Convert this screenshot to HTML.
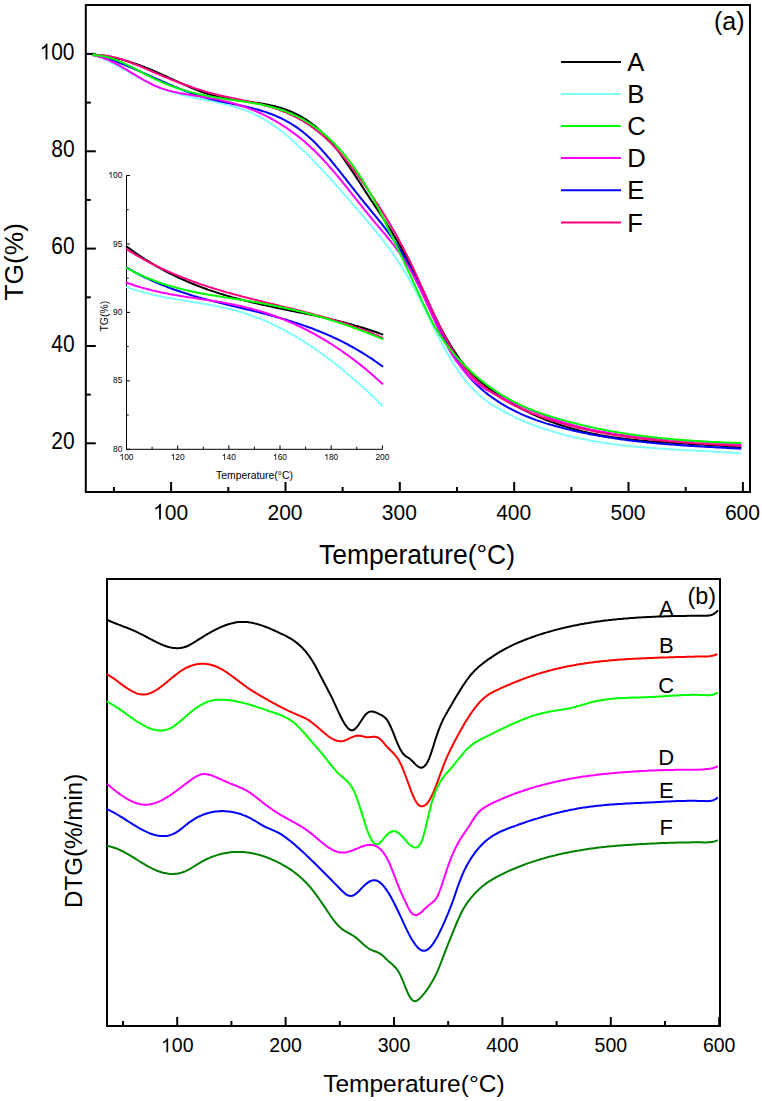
<!DOCTYPE html>
<html><head><meta charset="utf-8"><title>TG DTG</title>
<style>html,body{margin:0;padding:0;background:#fff;overflow:hidden;}svg{display:block;}svg text{font-family:"Liberation Sans",sans-serif;}</style>
</head><body>
<svg width="762" height="1101" viewBox="0 0 762 1101">
<rect width="762" height="1101" fill="#fff"/>
<g fill="none" stroke="#000" stroke-width="2">
<rect x="85.8" y="5" width="664.2" height="487"/>
<line x1="113.9" y1="492" x2="113.9" y2="487"/>
<line x1="171.1" y1="492" x2="171.1" y2="482"/>
<line x1="228.3" y1="492" x2="228.3" y2="487"/>
<line x1="285.5" y1="492" x2="285.5" y2="482"/>
<line x1="342.6" y1="492" x2="342.6" y2="487"/>
<line x1="399.8" y1="492" x2="399.8" y2="482"/>
<line x1="457" y1="492" x2="457" y2="487"/>
<line x1="514.2" y1="492" x2="514.2" y2="482"/>
<line x1="571.4" y1="492" x2="571.4" y2="487"/>
<line x1="628.5" y1="492" x2="628.5" y2="482"/>
<line x1="685.7" y1="492" x2="685.7" y2="487"/>
<line x1="742.9" y1="492" x2="742.9" y2="482"/>
<line x1="85.8" y1="443.3" x2="95.8" y2="443.3"/>
<line x1="85.8" y1="394.6" x2="90.8" y2="394.6"/>
<line x1="85.8" y1="346" x2="95.8" y2="346"/>
<line x1="85.8" y1="297.3" x2="90.8" y2="297.3"/>
<line x1="85.8" y1="248.6" x2="95.8" y2="248.6"/>
<line x1="85.8" y1="199.9" x2="90.8" y2="199.9"/>
<line x1="85.8" y1="151.3" x2="95.8" y2="151.3"/>
<line x1="85.8" y1="102.6" x2="90.8" y2="102.6"/>
<line x1="85.8" y1="53.9" x2="95.8" y2="53.9"/>
</g>
<g font-family="Liberation Sans, sans-serif" fill="#000">
<path transform="translate(153.1,519.6) scale(0.01025,-0.0107)" d="M763,0H583V1147Q518,1085 412,1023T223,930V1104Q374,1175 487,1276T647,1472H763Z"/>
<text transform="translate(164.8,519.6) scale(1,1.09)" font-size="21">00</text>
<text transform="translate(285,519.6) scale(1,1.09)" font-size="21" text-anchor="middle">200</text>
<text transform="translate(399.3,519.6) scale(1,1.09)" font-size="21" text-anchor="middle">300</text>
<text transform="translate(513.7,519.6) scale(1,1.09)" font-size="21" text-anchor="middle">400</text>
<text transform="translate(628,519.6) scale(1,1.09)" font-size="21" text-anchor="middle">500</text>
<text transform="translate(742.4,519.6) scale(1,1.09)" font-size="21" text-anchor="middle">600</text>
<text transform="translate(74.6,449) scale(1,1.11)" font-size="21" text-anchor="end">20</text>
<text transform="translate(74.6,351.7) scale(1,1.11)" font-size="21" text-anchor="end">40</text>
<text transform="translate(74.6,254.3) scale(1,1.11)" font-size="21" text-anchor="end">60</text>
<text transform="translate(74.6,157) scale(1,1.11)" font-size="21" text-anchor="end">80</text>
<path transform="translate(39.6,59.6) scale(0.01025,-0.01089)" d="M763,0H583V1147Q518,1085 412,1023T223,930V1104Q374,1175 487,1276T647,1472H763Z"/>
<text transform="translate(51.2,59.6) scale(1,1.11)" font-size="21">00</text>
<text transform="translate(319,564.2) scale(1,1.03)" font-size="26.5">Temperature(°C)</text>
<text transform="translate(23.3,300.5) rotate(-90)" font-size="26.3">TG(%)</text>
<text transform="translate(714,29.5)" font-size="25">(a)</text>
<line x1="561" y1="62" x2="621" y2="62" stroke="#000000" stroke-width="2"/>
<text transform="translate(627.3,71)" font-size="25.6">A</text>
<line x1="561" y1="94" x2="621" y2="94" stroke="#80ffff" stroke-width="2"/>
<text transform="translate(627.3,103)" font-size="25.6">B</text>
<line x1="561" y1="126" x2="621" y2="126" stroke="#00ff00" stroke-width="2"/>
<text transform="translate(627.3,135)" font-size="25.6">C</text>
<line x1="561" y1="158" x2="621" y2="158" stroke="#ff00ff" stroke-width="2"/>
<text transform="translate(627.3,167)" font-size="25.6">D</text>
<line x1="561" y1="190.3" x2="621" y2="190.3" stroke="#0000ff" stroke-width="2"/>
<text transform="translate(627.3,199.3)" font-size="25.6">E</text>
<line x1="561" y1="222.5" x2="621" y2="222.5" stroke="#ff0080" stroke-width="2"/>
<text transform="translate(627.3,231.5)" font-size="25.6">F</text>
</g>
<g fill="none" stroke="#000" stroke-width="1">
<polyline points="126.5,175.5 126.5,449.3 382.4,449.3"/>
<line x1="126.5" y1="449.3" x2="126.5" y2="445.3"/>
<line x1="152.1" y1="449.3" x2="152.1" y2="446.8"/>
<line x1="177.7" y1="449.3" x2="177.7" y2="445.3"/>
<line x1="203.3" y1="449.3" x2="203.3" y2="446.8"/>
<line x1="228.9" y1="449.3" x2="228.9" y2="445.3"/>
<line x1="254.4" y1="449.3" x2="254.4" y2="446.8"/>
<line x1="280" y1="449.3" x2="280" y2="445.3"/>
<line x1="305.6" y1="449.3" x2="305.6" y2="446.8"/>
<line x1="331.2" y1="449.3" x2="331.2" y2="445.3"/>
<line x1="356.8" y1="449.3" x2="356.8" y2="446.8"/>
<line x1="382.4" y1="449.3" x2="382.4" y2="445.3"/>
<line x1="126.5" y1="449.3" x2="130" y2="449.3"/>
<line x1="126.5" y1="415.1" x2="128.7" y2="415.1"/>
<line x1="126.5" y1="380.9" x2="130" y2="380.9"/>
<line x1="126.5" y1="346.6" x2="128.7" y2="346.6"/>
<line x1="126.5" y1="312.4" x2="130" y2="312.4"/>
<line x1="126.5" y1="278.2" x2="128.7" y2="278.2"/>
<line x1="126.5" y1="244" x2="130" y2="244"/>
<line x1="126.5" y1="209.7" x2="128.7" y2="209.7"/>
<line x1="126.5" y1="175.5" x2="130" y2="175.5"/>
</g>
<g font-family="Liberation Sans, sans-serif" fill="#000" font-size="9">
<path transform="translate(119.5,460) scale(0.0041,-0.00424)" d="M763,0H583V1147Q518,1085 412,1023T223,930V1104Q374,1175 487,1276T647,1472H763Z"/>
<text transform="translate(124.2,460) scale(1,1.08)" font-size="8.4">00</text>
<path transform="translate(170.7,460) scale(0.0041,-0.00424)" d="M763,0H583V1147Q518,1085 412,1023T223,930V1104Q374,1175 487,1276T647,1472H763Z"/>
<text transform="translate(175.3,460) scale(1,1.08)" font-size="8.4">20</text>
<path transform="translate(221.9,460) scale(0.0041,-0.00424)" d="M763,0H583V1147Q518,1085 412,1023T223,930V1104Q374,1175 487,1276T647,1472H763Z"/>
<text transform="translate(226.5,460) scale(1,1.08)" font-size="8.4">40</text>
<path transform="translate(273,460) scale(0.0041,-0.00424)" d="M763,0H583V1147Q518,1085 412,1023T223,930V1104Q374,1175 487,1276T647,1472H763Z"/>
<text transform="translate(277.7,460) scale(1,1.08)" font-size="8.4">60</text>
<path transform="translate(324.2,460) scale(0.0041,-0.00424)" d="M763,0H583V1147Q518,1085 412,1023T223,930V1104Q374,1175 487,1276T647,1472H763Z"/>
<text transform="translate(328.9,460) scale(1,1.08)" font-size="8.4">80</text>
<text transform="translate(375.4,460) scale(1,1.08)" font-size="8.4">200</text>
<text transform="translate(113,451.8) scale(1,1.08)" font-size="8.4">80</text>
<text transform="translate(113,383.4) scale(1,1.08)" font-size="8.4">85</text>
<text transform="translate(113,314.9) scale(1,1.08)" font-size="8.4">90</text>
<text transform="translate(113,246.5) scale(1,1.08)" font-size="8.4">95</text>
<path transform="translate(108.3,178) scale(0.0041,-0.00424)" d="M763,0H583V1147Q518,1085 412,1023T223,930V1104Q374,1175 487,1276T647,1472H763Z"/>
<text transform="translate(113,178) scale(1,1.08)" font-size="8.4">00</text>
<text transform="translate(216,478.5)" font-size="10.4">Temperature(°C)</text>
<text transform="translate(108.2,331.5) rotate(-90)" font-size="10.4">TG(%)</text>
</g>
<g fill="none" stroke-width="2" stroke-linejoin="round" stroke-linecap="round">
<path d="M93.2,54.6 L94.7,54.7 L96.2,54.8 L97.7,55 L99.2,55.1 L100.7,55.3 L102.2,55.5 L103.7,55.7 L105.2,56 L106.7,56.2 L108.2,56.5 L109.7,56.7 L111.2,57 L112.7,57.4 L114.2,57.7 L115.7,58 L117.2,58.4 L118.7,58.7 L120.2,59.1 L121.7,59.5 L123.2,59.9 L124.7,60.4 L126.2,60.8 L127.7,61.3 L129.2,61.7 L130.7,62.2 L132.2,62.7 L133.8,63.2 L135.3,63.7 L136.8,64.2 L138.3,64.8 L139.8,65.3 L141.3,65.9 L142.8,66.4 L144.3,67 L145.8,67.6 L147.3,68.2 L148.8,68.8 L150.3,69.4 L151.8,70 L153.3,70.7 L154.8,71.3 L156.3,72 L157.8,72.6 L159.3,73.3 L160.8,74 L162.3,74.6 L163.8,75.3 L165.3,76 L166.8,76.7 L168.3,77.4 L169.8,78.1 L171.3,78.7 L172.8,79.4 L174.3,80.1 L175.8,80.8 L177.3,81.5 L178.8,82.2 L180.3,82.9 L181.8,83.5 L183.3,84.2 L184.8,84.9 L186.3,85.5 L187.8,86.2 L189.3,86.8 L190.8,87.5 L192.3,88.1 L193.8,88.7 L195.3,89.3 L196.8,89.9 L198.3,90.5 L199.8,91.1 L201.3,91.7 L202.8,92.2 L204.3,92.8 L205.8,93.3 L207.3,93.8 L208.8,94.3 L210.3,94.7 L211.8,95.2 L213.3,95.6 L214.9,96 L216.4,96.4 L217.9,96.8 L219.4,97.1 L220.9,97.5 L222.4,97.8 L223.9,98.1 L225.4,98.4 L226.9,98.7 L228.4,98.9 L229.9,99.2 L231.4,99.4 L232.9,99.7 L234.4,99.9 L235.9,100.1 L237.4,100.3 L238.9,100.5 L240.4,100.7 L241.9,100.9 L243.4,101.1 L244.9,101.3 L246.4,101.5 L247.9,101.7 L249.4,101.9 L250.9,102.1 L252.4,102.3 L253.9,102.5 L255.4,102.7 L256.9,102.9 L258.4,103.1 L259.9,103.3 L261.4,103.6 L262.9,103.8 L264.4,104.1 L265.9,104.4 L267.4,104.6 L268.9,104.9 L270.4,105.3 L271.9,105.6 L273.4,105.9 L274.9,106.3 L276.4,106.7 L277.9,107.1 L279.4,107.5 L280.9,108 L282.4,108.4 L283.9,108.9 L285.4,109.5 L286.9,110 L288.4,110.6 L289.9,111.2 L291.4,111.8 L292.9,112.5 L294.4,113.2 L296,113.9 L297.5,114.6 L299,115.4 L300.5,116.3 L302,117.1 L303.5,118 L305,118.9 L306.5,119.9 L308,120.9 L309.5,122 L311,123.1 L312.5,124.2 L314,125.4 L315.5,126.6 L317,127.9 L318.5,129.2 L320,130.6 L321.5,132 L323,133.5 L324.5,135 L326,136.6 L327.5,138.2 L329,139.9 L330.5,141.6 L332,143.4 L333.5,145.2 L335,147.1 L336.5,149 L338,151 L339.5,153 L341,155 L342.5,157.1 L344,159.2 L345.5,161.3 L347,163.5 L348.5,165.7 L350,167.9 L351.5,170.1 L353,172.4 L354.5,174.6 L356,176.9 L357.5,179.2 L359,181.5 L360.5,183.8 L362,186.1 L363.5,188.5 L365,190.8 L366.5,193.1 L368,195.4 L369.5,197.7 L371,200 L372.5,202.3 L374,204.6 L375.5,206.9 L377.1,209.1 L378.6,211.4 L380.1,213.7 L381.6,216 L383.1,218.3 L384.6,220.6 L386.1,222.9 L387.6,225.3 L389.1,227.6 L390.6,230 L392.1,232.4 L393.6,234.9 L395.1,237.4 L396.6,239.9 L398.1,242.4 L399.6,245 L401.1,247.7 L402.6,250.4 L404.1,253.1 L405.6,255.9 L407.1,258.7 L408.6,261.6 L410.1,264.5 L411.6,267.5 L413.1,270.6 L414.6,273.7 L416.1,276.8 L417.6,279.9 L419.1,283.1 L420.6,286.3 L422.1,289.5 L423.6,292.7 L425.1,295.9 L426.6,299.1 L428.1,302.3 L429.6,305.4 L431.1,308.6 L432.6,311.7 L434.1,314.8 L435.6,317.8 L437.1,320.8 L438.6,323.7 L440.1,326.6 L441.6,329.5 L443.1,332.3 L444.6,335 L446.1,337.7 L447.6,340.3 L449.1,342.8 L450.6,345.3 L452.1,347.8 L453.6,350.1 L455.1,352.4 L456.6,354.7 L458.2,356.9 L459.7,359 L461.2,361 L462.7,362.9 L464.2,364.8 L465.7,366.7 L467.2,368.4 L468.7,370.1 L470.2,371.7 L471.7,373.3 L473.2,374.8 L474.7,376.3 L476.2,377.7 L477.7,379.1 L479.2,380.4 L480.7,381.7 L482.2,383 L483.7,384.2 L485.2,385.4 L486.7,386.6 L488.2,387.7 L489.7,388.8 L491.2,389.9 L492.7,391 L494.2,392.1 L495.7,393.1 L497.2,394.1 L498.7,395.2 L500.2,396.2 L501.7,397.1 L503.2,398.1 L504.7,399.1 L506.2,400 L507.7,400.9 L509.2,401.8 L510.7,402.7 L512.2,403.6 L513.7,404.5 L515.2,405.3 L516.7,406.1 L518.2,407 L519.7,407.8 L521.2,408.6 L522.7,409.4 L524.2,410.1 L525.7,410.9 L527.2,411.6 L528.7,412.3 L530.2,413.1 L531.7,413.8 L533.2,414.5 L534.7,415.1 L536.2,415.8 L537.7,416.5 L539.3,417.1 L540.8,417.7 L542.3,418.4 L543.8,419 L545.3,419.6 L546.8,420.2 L548.3,420.7 L549.8,421.3 L551.3,421.9 L552.8,422.4 L554.3,422.9 L555.8,423.5 L557.3,424 L558.8,424.5 L560.3,425 L561.8,425.5 L563.3,426 L564.8,426.4 L566.3,426.9 L567.8,427.3 L569.3,427.8 L570.8,428.2 L572.3,428.6 L573.8,429 L575.3,429.4 L576.8,429.8 L578.3,430.2 L579.8,430.6 L581.3,431 L582.8,431.4 L584.3,431.7 L585.8,432.1 L587.3,432.4 L588.8,432.7 L590.3,433.1 L591.8,433.4 L593.3,433.7 L594.8,434 L596.3,434.3 L597.8,434.6 L599.3,434.9 L600.8,435.2 L602.3,435.4 L603.8,435.7 L605.3,436 L606.8,436.2 L608.3,436.4 L609.8,436.7 L611.3,436.9 L612.8,437.2 L614.3,437.4 L615.8,437.6 L617.3,437.8 L618.8,438 L620.4,438.2 L621.9,438.4 L623.4,438.6 L624.9,438.8 L626.4,439 L627.9,439.2 L629.4,439.3 L630.9,439.5 L632.4,439.7 L633.9,439.8 L635.4,440 L636.9,440.1 L638.4,440.3 L639.9,440.4 L641.4,440.6 L642.9,440.7 L644.4,440.8 L645.9,441 L647.4,441.1 L648.9,441.2 L650.4,441.4 L651.9,441.5 L653.4,441.6 L654.9,441.7 L656.4,441.8 L657.9,441.9 L659.4,442 L660.9,442.1 L662.4,442.2 L663.9,442.3 L665.4,442.4 L666.9,442.5 L668.4,442.6 L669.9,442.7 L671.4,442.8 L672.9,442.9 L674.4,443 L675.9,443.1 L677.4,443.2 L678.9,443.3 L680.4,443.4 L681.9,443.4 L683.4,443.5 L684.9,443.6 L686.4,443.7 L687.9,443.8 L689.4,443.9 L690.9,444 L692.4,444 L693.9,444.1 L695.4,444.2 L696.9,444.3 L698.4,444.4 L699.9,444.5 L701.5,444.6 L703,444.6 L704.5,444.7 L706,444.8 L707.5,444.9 L709,445 L710.5,445.1 L712,445.2 L713.5,445.3 L715,445.4 L716.5,445.5 L718,445.6 L719.5,445.7 L721,445.8 L722.5,446 L724,446.1 L725.5,446.2 L727,446.3 L728.5,446.4 L730,446.6 L731.5,446.7 L733,446.8 L734.5,447 L736,447.1 L737.5,447.2 L739,447.4 L740.5,447.5" stroke="#000000"/>
<path d="M93.2,55.1 L94.7,55.6 L96.2,56.1 L97.7,56.6 L99.2,57.2 L100.7,57.7 L102.2,58.3 L103.7,59 L105.2,59.6 L106.7,60.3 L108.2,61 L109.7,61.7 L111.2,62.5 L112.7,63.2 L114.2,64 L115.7,64.8 L117.2,65.6 L118.7,66.4 L120.2,67.2 L121.7,68 L123.2,68.9 L124.7,69.7 L126.2,70.6 L127.7,71.4 L129.2,72.3 L130.7,73.1 L132.2,74 L133.8,74.8 L135.3,75.7 L136.8,76.5 L138.3,77.4 L139.8,78.2 L141.3,79 L142.8,79.8 L144.3,80.6 L145.8,81.4 L147.3,82.2 L148.8,82.9 L150.3,83.7 L151.8,84.4 L153.3,85.1 L154.8,85.8 L156.3,86.4 L157.8,87.1 L159.3,87.7 L160.8,88.3 L162.3,88.9 L163.8,89.4 L165.3,90 L166.8,90.5 L168.3,91 L169.8,91.5 L171.3,91.9 L172.8,92.4 L174.3,92.8 L175.8,93.3 L177.3,93.7 L178.8,94.1 L180.3,94.5 L181.8,94.9 L183.3,95.2 L184.8,95.6 L186.3,96 L187.8,96.3 L189.3,96.6 L190.8,97 L192.3,97.3 L193.8,97.6 L195.3,97.9 L196.8,98.2 L198.3,98.5 L199.8,98.9 L201.3,99.2 L202.8,99.5 L204.3,99.8 L205.8,100.1 L207.3,100.4 L208.8,100.7 L210.3,101 L211.8,101.3 L213.3,101.6 L214.9,101.9 L216.4,102.2 L217.9,102.6 L219.4,102.9 L220.9,103.2 L222.4,103.6 L223.9,104 L225.4,104.3 L226.9,104.7 L228.4,105.1 L229.9,105.5 L231.4,105.9 L232.9,106.3 L234.4,106.8 L235.9,107.2 L237.4,107.7 L238.9,108.2 L240.4,108.7 L241.9,109.2 L243.4,109.8 L244.9,110.3 L246.4,110.9 L247.9,111.5 L249.4,112.1 L250.9,112.7 L252.4,113.4 L253.9,114.1 L255.4,114.8 L256.9,115.5 L258.4,116.3 L259.9,117.1 L261.4,117.9 L262.9,118.7 L264.4,119.6 L265.9,120.5 L267.4,121.4 L268.9,122.3 L270.4,123.3 L271.9,124.3 L273.4,125.3 L274.9,126.4 L276.4,127.5 L277.9,128.6 L279.4,129.7 L280.9,130.9 L282.4,132 L283.9,133.2 L285.4,134.5 L286.9,135.7 L288.4,137 L289.9,138.3 L291.4,139.6 L292.9,140.9 L294.4,142.2 L296,143.6 L297.5,145 L299,146.4 L300.5,147.8 L302,149.2 L303.5,150.7 L305,152.1 L306.5,153.6 L308,155.1 L309.5,156.6 L311,158.1 L312.5,159.6 L314,161.2 L315.5,162.7 L317,164.3 L318.5,165.9 L320,167.4 L321.5,169 L323,170.6 L324.5,172.2 L326,173.9 L327.5,175.5 L329,177.1 L330.5,178.8 L332,180.5 L333.5,182.1 L335,183.8 L336.5,185.5 L338,187.2 L339.5,188.9 L341,190.6 L342.5,192.3 L344,194 L345.5,195.7 L347,197.4 L348.5,199.2 L350,200.9 L351.5,202.6 L353,204.4 L354.5,206.1 L356,207.9 L357.5,209.7 L359,211.4 L360.5,213.2 L362,214.9 L363.5,216.7 L365,218.5 L366.5,220.3 L368,222 L369.5,223.8 L371,225.6 L372.5,227.4 L374,229.2 L375.5,231 L377.1,232.9 L378.6,234.7 L380.1,236.6 L381.6,238.5 L383.1,240.4 L384.6,242.3 L386.1,244.3 L387.6,246.3 L389.1,248.3 L390.6,250.4 L392.1,252.5 L393.6,254.6 L395.1,256.8 L396.6,259 L398.1,261.2 L399.6,263.5 L401.1,265.9 L402.6,268.2 L404.1,270.7 L405.6,273.2 L407.1,275.7 L408.6,278.3 L410.1,280.9 L411.6,283.6 L413.1,286.4 L414.6,289.2 L416.1,292.1 L417.6,295 L419.1,297.9 L420.6,300.9 L422.1,303.9 L423.6,306.9 L425.1,310 L426.6,313 L428.1,316.1 L429.6,319.1 L431.1,322.2 L432.6,325.2 L434.1,328.2 L435.6,331.2 L437.1,334.2 L438.6,337.1 L440.1,340 L441.6,342.9 L443.1,345.7 L444.6,348.5 L446.1,351.2 L447.6,353.9 L449.1,356.5 L450.6,359.1 L452.1,361.6 L453.6,364 L455.1,366.4 L456.6,368.7 L458.2,371 L459.7,373.1 L461.2,375.2 L462.7,377.2 L464.2,379.2 L465.7,381 L467.2,382.8 L468.7,384.6 L470.2,386.2 L471.7,387.8 L473.2,389.4 L474.7,390.9 L476.2,392.3 L477.7,393.7 L479.2,395 L480.7,396.3 L482.2,397.5 L483.7,398.7 L485.2,399.8 L486.7,401 L488.2,402 L489.7,403.1 L491.2,404.1 L492.7,405 L494.2,406 L495.7,406.9 L497.2,407.8 L498.7,408.7 L500.2,409.5 L501.7,410.4 L503.2,411.2 L504.7,412 L506.2,412.8 L507.7,413.6 L509.2,414.4 L510.7,415.2 L512.2,415.9 L513.7,416.7 L515.2,417.4 L516.7,418.1 L518.2,418.8 L519.7,419.4 L521.2,420.1 L522.7,420.8 L524.2,421.4 L525.7,422 L527.2,422.7 L528.7,423.3 L530.2,423.9 L531.7,424.4 L533.2,425 L534.7,425.6 L536.2,426.1 L537.7,426.7 L539.3,427.2 L540.8,427.7 L542.3,428.2 L543.8,428.7 L545.3,429.2 L546.8,429.7 L548.3,430.2 L549.8,430.6 L551.3,431.1 L552.8,431.5 L554.3,432 L555.8,432.4 L557.3,432.8 L558.8,433.3 L560.3,433.7 L561.8,434.1 L563.3,434.5 L564.8,434.9 L566.3,435.2 L567.8,435.6 L569.3,436 L570.8,436.3 L572.3,436.7 L573.8,437 L575.3,437.4 L576.8,437.7 L578.3,438 L579.8,438.4 L581.3,438.7 L582.8,439 L584.3,439.3 L585.8,439.6 L587.3,439.9 L588.8,440.2 L590.3,440.5 L591.8,440.7 L593.3,441 L594.8,441.3 L596.3,441.5 L597.8,441.8 L599.3,442 L600.8,442.3 L602.3,442.5 L603.8,442.8 L605.3,443 L606.8,443.2 L608.3,443.4 L609.8,443.6 L611.3,443.8 L612.8,444.1 L614.3,444.3 L615.8,444.5 L617.3,444.6 L618.8,444.8 L620.4,445 L621.9,445.2 L623.4,445.4 L624.9,445.5 L626.4,445.7 L627.9,445.9 L629.4,446 L630.9,446.2 L632.4,446.4 L633.9,446.5 L635.4,446.7 L636.9,446.8 L638.4,446.9 L639.9,447.1 L641.4,447.2 L642.9,447.3 L644.4,447.5 L645.9,447.6 L647.4,447.7 L648.9,447.8 L650.4,448 L651.9,448.1 L653.4,448.2 L654.9,448.3 L656.4,448.4 L657.9,448.5 L659.4,448.6 L660.9,448.7 L662.4,448.8 L663.9,448.9 L665.4,449 L666.9,449.1 L668.4,449.2 L669.9,449.3 L671.4,449.4 L672.9,449.5 L674.4,449.6 L675.9,449.7 L677.4,449.7 L678.9,449.8 L680.4,449.9 L681.9,450 L683.4,450.1 L684.9,450.2 L686.4,450.2 L687.9,450.3 L689.4,450.4 L690.9,450.5 L692.4,450.6 L693.9,450.6 L695.4,450.7 L696.9,450.8 L698.4,450.9 L699.9,451 L701.5,451 L703,451.1 L704.5,451.2 L706,451.3 L707.5,451.3 L709,451.4 L710.5,451.5 L712,451.6 L713.5,451.7 L715,451.7 L716.5,451.8 L718,451.9 L719.5,452 L721,452.1 L722.5,452.2 L724,452.3 L725.5,452.4 L727,452.4 L728.5,452.5 L730,452.6 L731.5,452.7 L733,452.8 L734.5,452.9 L736,453 L737.5,453.1 L739,453.2 L740.5,453.3" stroke="#80ffff"/>
<path d="M93.2,54.2 L94.7,54.6 L96.2,55 L97.7,55.4 L99.2,55.8 L100.7,56.3 L102.2,56.7 L103.7,57.2 L105.2,57.7 L106.7,58.2 L108.2,58.7 L109.7,59.2 L111.2,59.7 L112.7,60.3 L114.2,60.8 L115.7,61.4 L117.2,61.9 L118.7,62.5 L120.2,63.1 L121.7,63.7 L123.2,64.3 L124.7,64.9 L126.2,65.5 L127.7,66.2 L129.2,66.8 L130.7,67.4 L132.2,68.1 L133.8,68.7 L135.3,69.3 L136.8,70 L138.3,70.7 L139.8,71.3 L141.3,72 L142.8,72.7 L144.3,73.3 L145.8,74 L147.3,74.7 L148.8,75.3 L150.3,76 L151.8,76.7 L153.3,77.4 L154.8,78 L156.3,78.7 L157.8,79.4 L159.3,80 L160.8,80.7 L162.3,81.4 L163.8,82 L165.3,82.7 L166.8,83.3 L168.3,84 L169.8,84.6 L171.3,85.3 L172.8,85.9 L174.3,86.6 L175.8,87.2 L177.3,87.8 L178.8,88.4 L180.3,89 L181.8,89.6 L183.3,90.2 L184.8,90.8 L186.3,91.4 L187.8,91.9 L189.3,92.5 L190.8,93 L192.3,93.6 L193.8,94.1 L195.3,94.6 L196.8,95.1 L198.3,95.6 L199.8,96.1 L201.3,96.5 L202.8,97 L204.3,97.4 L205.8,97.8 L207.3,98.3 L208.8,98.6 L210.3,99 L211.8,99.4 L213.3,99.8 L214.9,100.1 L216.4,100.5 L217.9,100.8 L219.4,101.2 L220.9,101.5 L222.4,101.8 L223.9,102.1 L225.4,102.4 L226.9,102.7 L228.4,103 L229.9,103.3 L231.4,103.6 L232.9,103.9 L234.4,104.2 L235.9,104.5 L237.4,104.9 L238.9,105.2 L240.4,105.5 L241.9,105.8 L243.4,106.1 L244.9,106.4 L246.4,106.8 L247.9,107.1 L249.4,107.5 L250.9,107.8 L252.4,108.2 L253.9,108.6 L255.4,109 L256.9,109.4 L258.4,109.8 L259.9,110.3 L261.4,110.7 L262.9,111.2 L264.4,111.6 L265.9,112.1 L267.4,112.7 L268.9,113.2 L270.4,113.7 L271.9,114.3 L273.4,114.9 L274.9,115.5 L276.4,116.2 L277.9,116.8 L279.4,117.5 L280.9,118.2 L282.4,119 L283.9,119.7 L285.4,120.5 L286.9,121.4 L288.4,122.2 L289.9,123.1 L291.4,124 L292.9,124.9 L294.4,125.9 L296,126.9 L297.5,127.9 L299,129 L300.5,130.1 L302,131.3 L303.5,132.4 L305,133.7 L306.5,134.9 L308,136.2 L309.5,137.6 L311,138.9 L312.5,140.3 L314,141.8 L315.5,143.3 L317,144.8 L318.5,146.4 L320,148 L321.5,149.6 L323,151.3 L324.5,153 L326,154.7 L327.5,156.5 L329,158.2 L330.5,160 L332,161.8 L333.5,163.7 L335,165.5 L336.5,167.4 L338,169.2 L339.5,171.1 L341,173 L342.5,174.9 L344,176.8 L345.5,178.7 L347,180.7 L348.5,182.6 L350,184.5 L351.5,186.4 L353,188.3 L354.5,190.2 L356,192.1 L357.5,194 L359,195.9 L360.5,197.8 L362,199.7 L363.5,201.5 L365,203.3 L366.5,205.2 L368,207 L369.5,208.8 L371,210.6 L372.5,212.5 L374,214.3 L375.5,216.1 L377.1,218 L378.6,219.9 L380.1,221.8 L381.6,223.7 L383.1,225.6 L384.6,227.6 L386.1,229.5 L387.6,231.6 L389.1,233.6 L390.6,235.7 L392.1,237.9 L393.6,240 L395.1,242.3 L396.6,244.5 L398.1,246.9 L399.6,249.3 L401.1,251.7 L402.6,254.2 L404.1,256.8 L405.6,259.4 L407.1,262.1 L408.6,264.9 L410.1,267.7 L411.6,270.6 L413.1,273.6 L414.6,276.6 L416.1,279.7 L417.6,282.8 L419.1,285.9 L420.6,289 L422.1,292.2 L423.6,295.4 L425.1,298.6 L426.6,301.8 L428.1,305 L429.6,308.2 L431.1,311.4 L432.6,314.6 L434.1,317.8 L435.6,320.9 L437.1,324 L438.6,327.1 L440.1,330.1 L441.6,333.1 L443.1,336.1 L444.6,339 L446.1,341.8 L447.6,344.6 L449.1,347.4 L450.6,350 L452.1,352.7 L453.6,355.2 L455.1,357.6 L456.6,360 L458.2,362.3 L459.7,364.5 L461.2,366.7 L462.7,368.7 L464.2,370.7 L465.7,372.7 L467.2,374.5 L468.7,376.3 L470.2,378 L471.7,379.7 L473.2,381.3 L474.7,382.8 L476.2,384.3 L477.7,385.7 L479.2,387.1 L480.7,388.4 L482.2,389.7 L483.7,391 L485.2,392.2 L486.7,393.4 L488.2,394.6 L489.7,395.7 L491.2,396.8 L492.7,397.8 L494.2,398.9 L495.7,399.9 L497.2,400.9 L498.7,401.9 L500.2,402.8 L501.7,403.8 L503.2,404.7 L504.7,405.6 L506.2,406.4 L507.7,407.3 L509.2,408.1 L510.7,408.9 L512.2,409.7 L513.7,410.5 L515.2,411.2 L516.7,412 L518.2,412.7 L519.7,413.4 L521.2,414.1 L522.7,414.7 L524.2,415.4 L525.7,416 L527.2,416.6 L528.7,417.2 L530.2,417.8 L531.7,418.4 L533.2,419 L534.7,419.5 L536.2,420.1 L537.7,420.6 L539.3,421.1 L540.8,421.6 L542.3,422.1 L543.8,422.6 L545.3,423.1 L546.8,423.6 L548.3,424 L549.8,424.5 L551.3,424.9 L552.8,425.3 L554.3,425.8 L555.8,426.2 L557.3,426.6 L558.8,427 L560.3,427.4 L561.8,427.8 L563.3,428.2 L564.8,428.5 L566.3,428.9 L567.8,429.3 L569.3,429.6 L570.8,430 L572.3,430.4 L573.8,430.7 L575.3,431.1 L576.8,431.4 L578.3,431.7 L579.8,432 L581.3,432.4 L582.8,432.7 L584.3,433 L585.8,433.3 L587.3,433.6 L588.8,433.9 L590.3,434.2 L591.8,434.5 L593.3,434.8 L594.8,435.1 L596.3,435.3 L597.8,435.6 L599.3,435.9 L600.8,436.1 L602.3,436.4 L603.8,436.6 L605.3,436.9 L606.8,437.1 L608.3,437.4 L609.8,437.6 L611.3,437.8 L612.8,438.1 L614.3,438.3 L615.8,438.5 L617.3,438.7 L618.8,439 L620.4,439.2 L621.9,439.4 L623.4,439.6 L624.9,439.8 L626.4,440 L627.9,440.2 L629.4,440.4 L630.9,440.5 L632.4,440.7 L633.9,440.9 L635.4,441.1 L636.9,441.3 L638.4,441.4 L639.9,441.6 L641.4,441.8 L642.9,441.9 L644.4,442.1 L645.9,442.2 L647.4,442.4 L648.9,442.5 L650.4,442.7 L651.9,442.8 L653.4,443 L654.9,443.1 L656.4,443.3 L657.9,443.4 L659.4,443.5 L660.9,443.7 L662.4,443.8 L663.9,443.9 L665.4,444 L666.9,444.2 L668.4,444.3 L669.9,444.4 L671.4,444.5 L672.9,444.6 L674.4,444.7 L675.9,444.8 L677.4,445 L678.9,445.1 L680.4,445.2 L681.9,445.3 L683.4,445.4 L684.9,445.5 L686.4,445.6 L687.9,445.7 L689.4,445.8 L690.9,445.9 L692.4,446 L693.9,446.1 L695.4,446.2 L696.9,446.2 L698.4,446.3 L699.9,446.4 L701.5,446.5 L703,446.6 L704.5,446.7 L706,446.8 L707.5,446.9 L709,446.9 L710.5,447 L712,447.1 L713.5,447.2 L715,447.3 L716.5,447.4 L718,447.4 L719.5,447.5 L721,447.6 L722.5,447.7 L724,447.8 L725.5,447.8 L727,447.9 L728.5,448 L730,448.1 L731.5,448.2 L733,448.3 L734.5,448.3 L736,448.4 L737.5,448.5 L739,448.6 L740.5,448.7" stroke="#0000ff"/>
<path d="M93.2,55.5 L94.7,55.7 L96.2,56 L97.7,56.3 L99.2,56.7 L100.7,57.1 L102.2,57.6 L103.7,58.1 L105.2,58.7 L106.7,59.3 L108.2,59.9 L109.7,60.6 L111.2,61.3 L112.7,62 L114.2,62.8 L115.7,63.6 L117.2,64.4 L118.7,65.2 L120.2,66 L121.7,66.9 L123.2,67.8 L124.7,68.6 L126.2,69.5 L127.7,70.4 L129.2,71.4 L130.7,72.3 L132.2,73.2 L133.8,74.1 L135.3,75 L136.8,75.9 L138.3,76.8 L139.8,77.7 L141.3,78.6 L142.8,79.4 L144.3,80.3 L145.8,81.1 L147.3,81.9 L148.8,82.7 L150.3,83.5 L151.8,84.2 L153.3,85 L154.8,85.6 L156.3,86.3 L157.8,86.9 L159.3,87.5 L160.8,88.1 L162.3,88.6 L163.8,89.1 L165.3,89.6 L166.8,90 L168.3,90.5 L169.8,90.9 L171.3,91.3 L172.8,91.6 L174.3,92 L175.8,92.3 L177.3,92.6 L178.8,92.9 L180.3,93.2 L181.8,93.5 L183.3,93.8 L184.8,94 L186.3,94.3 L187.8,94.5 L189.3,94.8 L190.8,95 L192.3,95.2 L193.8,95.4 L195.3,95.7 L196.8,95.9 L198.3,96.1 L199.8,96.3 L201.3,96.6 L202.8,96.8 L204.3,97 L205.8,97.3 L207.3,97.5 L208.8,97.8 L210.3,98.1 L211.8,98.3 L213.3,98.6 L214.9,98.9 L216.4,99.2 L217.9,99.5 L219.4,99.8 L220.9,100.2 L222.4,100.5 L223.9,100.9 L225.4,101.2 L226.9,101.6 L228.4,102 L229.9,102.4 L231.4,102.8 L232.9,103.2 L234.4,103.6 L235.9,104.1 L237.4,104.5 L238.9,105 L240.4,105.5 L241.9,106 L243.4,106.5 L244.9,107 L246.4,107.5 L247.9,108.1 L249.4,108.6 L250.9,109.2 L252.4,109.8 L253.9,110.4 L255.4,111 L256.9,111.7 L258.4,112.3 L259.9,113 L261.4,113.7 L262.9,114.4 L264.4,115.1 L265.9,115.9 L267.4,116.6 L268.9,117.4 L270.4,118.2 L271.9,119 L273.4,119.9 L274.9,120.7 L276.4,121.6 L277.9,122.5 L279.4,123.4 L280.9,124.3 L282.4,125.3 L283.9,126.2 L285.4,127.2 L286.9,128.2 L288.4,129.3 L289.9,130.3 L291.4,131.4 L292.9,132.5 L294.4,133.6 L296,134.8 L297.5,135.9 L299,137.1 L300.5,138.3 L302,139.6 L303.5,140.8 L305,142.1 L306.5,143.4 L308,144.7 L309.5,146.1 L311,147.5 L312.5,148.9 L314,150.3 L315.5,151.8 L317,153.3 L318.5,154.8 L320,156.3 L321.5,157.9 L323,159.5 L324.5,161.1 L326,162.7 L327.5,164.4 L329,166.1 L330.5,167.8 L332,169.5 L333.5,171.3 L335,173 L336.5,174.8 L338,176.6 L339.5,178.5 L341,180.3 L342.5,182.1 L344,184 L345.5,185.8 L347,187.7 L348.5,189.6 L350,191.5 L351.5,193.4 L353,195.3 L354.5,197.1 L356,199 L357.5,200.9 L359,202.8 L360.5,204.7 L362,206.6 L363.5,208.5 L365,210.4 L366.5,212.2 L368,214.1 L369.5,215.9 L371,217.7 L372.5,219.6 L374,221.4 L375.5,223.2 L377.1,224.9 L378.6,226.7 L380.1,228.5 L381.6,230.3 L383.1,232.1 L384.6,233.9 L386.1,235.7 L387.6,237.5 L389.1,239.3 L390.6,241.2 L392.1,243.1 L393.6,245 L395.1,247 L396.6,249 L398.1,251.1 L399.6,253.2 L401.1,255.4 L402.6,257.6 L404.1,259.8 L405.6,262.2 L407.1,264.6 L408.6,267.1 L410.1,269.6 L411.6,272.3 L413.1,275 L414.6,277.8 L416.1,280.7 L417.6,283.7 L419.1,286.7 L420.6,289.9 L422.1,293 L423.6,296.3 L425.1,299.6 L426.6,302.9 L428.1,306.2 L429.6,309.5 L431.1,312.9 L432.6,316.2 L434.1,319.5 L435.6,322.8 L437.1,326 L438.6,329.2 L440.1,332.4 L441.6,335.4 L443.1,338.4 L444.6,341.3 L446.1,344.2 L447.6,346.9 L449.1,349.5 L450.6,352.1 L452.1,354.5 L453.6,356.9 L455.1,359.2 L456.6,361.4 L458.2,363.5 L459.7,365.5 L461.2,367.5 L462.7,369.4 L464.2,371.2 L465.7,372.9 L467.2,374.5 L468.7,376.1 L470.2,377.5 L471.7,378.9 L473.2,380.3 L474.7,381.5 L476.2,382.8 L477.7,383.9 L479.2,385 L480.7,386 L482.2,387 L483.7,388 L485.2,388.9 L486.7,389.8 L488.2,390.6 L489.7,391.4 L491.2,392.2 L492.7,393 L494.2,393.7 L495.7,394.4 L497.2,395.2 L498.7,395.9 L500.2,396.6 L501.7,397.3 L503.2,398 L504.7,398.7 L506.2,399.4 L507.7,400 L509.2,400.7 L510.7,401.4 L512.2,402.1 L513.7,402.8 L515.2,403.5 L516.7,404.1 L518.2,404.8 L519.7,405.5 L521.2,406.1 L522.7,406.8 L524.2,407.4 L525.7,408.1 L527.2,408.7 L528.7,409.4 L530.2,410 L531.7,410.6 L533.2,411.2 L534.7,411.9 L536.2,412.5 L537.7,413.1 L539.3,413.7 L540.8,414.3 L542.3,414.8 L543.8,415.4 L545.3,416 L546.8,416.5 L548.3,417.1 L549.8,417.7 L551.3,418.2 L552.8,418.7 L554.3,419.3 L555.8,419.8 L557.3,420.3 L558.8,420.8 L560.3,421.3 L561.8,421.7 L563.3,422.2 L564.8,422.7 L566.3,423.1 L567.8,423.6 L569.3,424 L570.8,424.5 L572.3,424.9 L573.8,425.3 L575.3,425.7 L576.8,426.1 L578.3,426.5 L579.8,426.9 L581.3,427.3 L582.8,427.6 L584.3,428 L585.8,428.3 L587.3,428.7 L588.8,429 L590.3,429.4 L591.8,429.7 L593.3,430 L594.8,430.3 L596.3,430.6 L597.8,430.9 L599.3,431.2 L600.8,431.5 L602.3,431.8 L603.8,432 L605.3,432.3 L606.8,432.6 L608.3,432.8 L609.8,433.1 L611.3,433.3 L612.8,433.6 L614.3,433.8 L615.8,434 L617.3,434.3 L618.8,434.5 L620.4,434.7 L621.9,434.9 L623.4,435.1 L624.9,435.3 L626.4,435.5 L627.9,435.7 L629.4,435.9 L630.9,436.1 L632.4,436.2 L633.9,436.4 L635.4,436.6 L636.9,436.7 L638.4,436.9 L639.9,437.1 L641.4,437.2 L642.9,437.4 L644.4,437.5 L645.9,437.7 L647.4,437.8 L648.9,437.9 L650.4,438.1 L651.9,438.2 L653.4,438.3 L654.9,438.5 L656.4,438.6 L657.9,438.7 L659.4,438.8 L660.9,439 L662.4,439.1 L663.9,439.2 L665.4,439.3 L666.9,439.4 L668.4,439.5 L669.9,439.6 L671.4,439.7 L672.9,439.8 L674.4,439.9 L675.9,440 L677.4,440.1 L678.9,440.2 L680.4,440.3 L681.9,440.4 L683.4,440.5 L684.9,440.6 L686.4,440.7 L687.9,440.8 L689.4,440.9 L690.9,441 L692.4,441.1 L693.9,441.2 L695.4,441.3 L696.9,441.4 L698.4,441.5 L699.9,441.6 L701.5,441.7 L703,441.8 L704.5,441.8 L706,441.9 L707.5,442 L709,442.1 L710.5,442.2 L712,442.3 L713.5,442.4 L715,442.6 L716.5,442.7 L718,442.8 L719.5,442.9 L721,443 L722.5,443.1 L724,443.2 L725.5,443.3 L727,443.4 L728.5,443.6 L730,443.7 L731.5,443.8 L733,443.9 L734.5,444.1 L736,444.2 L737.5,444.4 L739,444.5 L740.5,444.6" stroke="#ff00ff"/>
<path d="M93.2,54.9 L94.7,54.9 L96.2,54.9 L97.7,54.9 L99.2,54.9 L100.7,55 L102.2,55.2 L103.7,55.3 L105.2,55.5 L106.7,55.7 L108.2,56 L109.7,56.2 L111.2,56.5 L112.7,56.9 L114.2,57.2 L115.7,57.6 L117.2,58 L118.7,58.4 L120.2,58.9 L121.7,59.3 L123.2,59.8 L124.7,60.3 L126.2,60.9 L127.7,61.4 L129.2,61.9 L130.7,62.5 L132.2,63.1 L133.8,63.7 L135.3,64.3 L136.8,64.9 L138.3,65.5 L139.8,66.1 L141.3,66.8 L142.8,67.4 L144.3,68.1 L145.8,68.7 L147.3,69.4 L148.8,70 L150.3,70.7 L151.8,71.3 L153.3,72 L154.8,72.6 L156.3,73.3 L157.8,73.9 L159.3,74.6 L160.8,75.2 L162.3,75.8 L163.8,76.5 L165.3,77.1 L166.8,77.7 L168.3,78.3 L169.8,78.9 L171.3,79.5 L172.8,80.1 L174.3,80.7 L175.8,81.3 L177.3,81.9 L178.8,82.5 L180.3,83 L181.8,83.6 L183.3,84.2 L184.8,84.7 L186.3,85.2 L187.8,85.8 L189.3,86.3 L190.8,86.8 L192.3,87.4 L193.8,87.9 L195.3,88.4 L196.8,88.9 L198.3,89.3 L199.8,89.8 L201.3,90.3 L202.8,90.7 L204.3,91.2 L205.8,91.6 L207.3,92.1 L208.8,92.5 L210.3,92.9 L211.8,93.3 L213.3,93.7 L214.9,94.1 L216.4,94.5 L217.9,94.9 L219.4,95.2 L220.9,95.6 L222.4,95.9 L223.9,96.3 L225.4,96.6 L226.9,96.9 L228.4,97.2 L229.9,97.6 L231.4,97.9 L232.9,98.2 L234.4,98.5 L235.9,98.8 L237.4,99.1 L238.9,99.4 L240.4,99.7 L241.9,100 L243.4,100.4 L244.9,100.7 L246.4,101 L247.9,101.3 L249.4,101.6 L250.9,102 L252.4,102.3 L253.9,102.6 L255.4,103 L256.9,103.3 L258.4,103.7 L259.9,104.1 L261.4,104.4 L262.9,104.8 L264.4,105.2 L265.9,105.6 L267.4,106.1 L268.9,106.5 L270.4,106.9 L271.9,107.4 L273.4,107.9 L274.9,108.4 L276.4,108.9 L277.9,109.4 L279.4,109.9 L280.9,110.5 L282.4,111.1 L283.9,111.7 L285.4,112.3 L286.9,112.9 L288.4,113.6 L289.9,114.2 L291.4,114.9 L292.9,115.7 L294.4,116.4 L296,117.2 L297.5,117.9 L299,118.8 L300.5,119.6 L302,120.5 L303.5,121.4 L305,122.3 L306.5,123.2 L308,124.2 L309.5,125.2 L311,126.3 L312.5,127.3 L314,128.4 L315.5,129.6 L317,130.7 L318.5,131.9 L320,133.2 L321.5,134.4 L323,135.7 L324.5,137.1 L326,138.4 L327.5,139.9 L329,141.3 L330.5,142.8 L332,144.3 L333.5,145.9 L335,147.5 L336.5,149.1 L338,150.7 L339.5,152.4 L341,154.1 L342.5,155.9 L344,157.7 L345.5,159.5 L347,161.3 L348.5,163.2 L350,165.1 L351.5,167.1 L353,169 L354.5,171 L356,173 L357.5,175 L359,177.1 L360.5,179.2 L362,181.3 L363.5,183.4 L365,185.6 L366.5,187.8 L368,189.9 L369.5,192.2 L371,194.4 L372.5,196.7 L374,198.9 L375.5,201.2 L377.1,203.5 L378.6,205.8 L380.1,208.2 L381.6,210.6 L383.1,213 L384.6,215.4 L386.1,217.8 L387.6,220.3 L389.1,222.8 L390.6,225.3 L392.1,227.9 L393.6,230.5 L395.1,233.1 L396.6,235.8 L398.1,238.5 L399.6,241.2 L401.1,244 L402.6,246.9 L404.1,249.7 L405.6,252.7 L407.1,255.6 L408.6,258.7 L410.1,261.7 L411.6,264.9 L413.1,268 L414.6,271.3 L416.1,274.5 L417.6,277.8 L419.1,281.1 L420.6,284.4 L422.1,287.8 L423.6,291.1 L425.1,294.5 L426.6,297.8 L428.1,301.1 L429.6,304.5 L431.1,307.8 L432.6,311.1 L434.1,314.3 L435.6,317.5 L437.1,320.7 L438.6,323.8 L440.1,326.9 L441.6,330 L443.1,332.9 L444.6,335.9 L446.1,338.7 L447.6,341.5 L449.1,344.3 L450.6,346.9 L452.1,349.5 L453.6,352 L455.1,354.5 L456.6,356.9 L458.2,359.1 L459.7,361.3 L461.2,363.4 L462.7,365.5 L464.2,367.4 L465.7,369.3 L467.2,371 L468.7,372.7 L470.2,374.4 L471.7,376 L473.2,377.5 L474.7,378.9 L476.2,380.3 L477.7,381.7 L479.2,382.9 L480.7,384.2 L482.2,385.4 L483.7,386.6 L485.2,387.7 L486.7,388.8 L488.2,389.8 L489.7,390.9 L491.2,391.9 L492.7,392.9 L494.2,393.8 L495.7,394.8 L497.2,395.7 L498.7,396.7 L500.2,397.6 L501.7,398.5 L503.2,399.3 L504.7,400.2 L506.2,401 L507.7,401.9 L509.2,402.7 L510.7,403.5 L512.2,404.3 L513.7,405 L515.2,405.8 L516.7,406.5 L518.2,407.2 L519.7,407.9 L521.2,408.6 L522.7,409.3 L524.2,410 L525.7,410.7 L527.2,411.3 L528.7,411.9 L530.2,412.6 L531.7,413.2 L533.2,413.8 L534.7,414.4 L536.2,414.9 L537.7,415.5 L539.3,416.1 L540.8,416.6 L542.3,417.2 L543.8,417.7 L545.3,418.2 L546.8,418.7 L548.3,419.2 L549.8,419.7 L551.3,420.2 L552.8,420.7 L554.3,421.1 L555.8,421.6 L557.3,422.1 L558.8,422.5 L560.3,422.9 L561.8,423.4 L563.3,423.8 L564.8,424.2 L566.3,424.6 L567.8,425 L569.3,425.5 L570.8,425.8 L572.3,426.2 L573.8,426.6 L575.3,427 L576.8,427.4 L578.3,427.7 L579.8,428.1 L581.3,428.4 L582.8,428.8 L584.3,429.1 L585.8,429.5 L587.3,429.8 L588.8,430.1 L590.3,430.5 L591.8,430.8 L593.3,431.1 L594.8,431.4 L596.3,431.7 L597.8,432 L599.3,432.3 L600.8,432.6 L602.3,432.8 L603.8,433.1 L605.3,433.4 L606.8,433.7 L608.3,433.9 L609.8,434.2 L611.3,434.4 L612.8,434.7 L614.3,434.9 L615.8,435.2 L617.3,435.4 L618.8,435.6 L620.4,435.8 L621.9,436.1 L623.4,436.3 L624.9,436.5 L626.4,436.7 L627.9,436.9 L629.4,437.1 L630.9,437.3 L632.4,437.5 L633.9,437.7 L635.4,437.9 L636.9,438.1 L638.4,438.3 L639.9,438.4 L641.4,438.6 L642.9,438.8 L644.4,439 L645.9,439.1 L647.4,439.3 L648.9,439.4 L650.4,439.6 L651.9,439.7 L653.4,439.9 L654.9,440 L656.4,440.2 L657.9,440.3 L659.4,440.5 L660.9,440.6 L662.4,440.7 L663.9,440.9 L665.4,441 L666.9,441.1 L668.4,441.3 L669.9,441.4 L671.4,441.5 L672.9,441.6 L674.4,441.8 L675.9,441.9 L677.4,442 L678.9,442.1 L680.4,442.2 L681.9,442.3 L683.4,442.4 L684.9,442.5 L686.4,442.6 L687.9,442.7 L689.4,442.8 L690.9,442.9 L692.4,443 L693.9,443.1 L695.4,443.2 L696.9,443.3 L698.4,443.4 L699.9,443.5 L701.5,443.6 L703,443.7 L704.5,443.8 L706,443.9 L707.5,444 L709,444.1 L710.5,444.2 L712,444.3 L713.5,444.3 L715,444.4 L716.5,444.5 L718,444.6 L719.5,444.7 L721,444.8 L722.5,444.9 L724,445 L725.5,445.1 L727,445.1 L728.5,445.2 L730,445.3 L731.5,445.4 L733,445.5 L734.5,445.6 L736,445.7 L737.5,445.8 L739,445.9 L740.5,446" stroke="#ff0080"/>
<path d="M93.2,55.3 L94.7,55.3 L96.2,55.4 L97.7,55.5 L99.2,55.6 L100.7,55.8 L102.2,56 L103.7,56.3 L105.2,56.6 L106.7,57 L108.2,57.4 L109.7,57.8 L111.2,58.2 L112.7,58.7 L114.2,59.3 L115.7,59.8 L117.2,60.4 L118.7,61 L120.2,61.6 L121.7,62.3 L123.2,62.9 L124.7,63.6 L126.2,64.3 L127.7,65.1 L129.2,65.8 L130.7,66.6 L132.2,67.3 L133.8,68.1 L135.3,68.9 L136.8,69.7 L138.3,70.5 L139.8,71.2 L141.3,72 L142.8,72.8 L144.3,73.6 L145.8,74.4 L147.3,75.2 L148.8,76 L150.3,76.7 L151.8,77.5 L153.3,78.2 L154.8,79 L156.3,79.7 L157.8,80.4 L159.3,81 L160.8,81.7 L162.3,82.4 L163.8,83 L165.3,83.6 L166.8,84.2 L168.3,84.8 L169.8,85.4 L171.3,86 L172.8,86.5 L174.3,87 L175.8,87.6 L177.3,88.1 L178.8,88.6 L180.3,89.1 L181.8,89.5 L183.3,90 L184.8,90.4 L186.3,90.9 L187.8,91.3 L189.3,91.7 L190.8,92.1 L192.3,92.5 L193.8,92.9 L195.3,93.3 L196.8,93.6 L198.3,94 L199.8,94.3 L201.3,94.7 L202.8,95 L204.3,95.3 L205.8,95.6 L207.3,95.9 L208.8,96.2 L210.3,96.5 L211.8,96.8 L213.3,97 L214.9,97.3 L216.4,97.6 L217.9,97.8 L219.4,98 L220.9,98.3 L222.4,98.5 L223.9,98.7 L225.4,98.9 L226.9,99.2 L228.4,99.4 L229.9,99.6 L231.4,99.8 L232.9,100 L234.4,100.2 L235.9,100.4 L237.4,100.6 L238.9,100.9 L240.4,101.1 L241.9,101.3 L243.4,101.5 L244.9,101.7 L246.4,102 L247.9,102.2 L249.4,102.4 L250.9,102.7 L252.4,102.9 L253.9,103.2 L255.4,103.5 L256.9,103.8 L258.4,104 L259.9,104.3 L261.4,104.6 L262.9,105 L264.4,105.3 L265.9,105.6 L267.4,106 L268.9,106.3 L270.4,106.7 L271.9,107.1 L273.4,107.5 L274.9,107.9 L276.4,108.4 L277.9,108.8 L279.4,109.3 L280.9,109.8 L282.4,110.3 L283.9,110.8 L285.4,111.4 L286.9,112 L288.4,112.6 L289.9,113.2 L291.4,113.8 L292.9,114.5 L294.4,115.1 L296,115.8 L297.5,116.6 L299,117.3 L300.5,118.1 L302,118.9 L303.5,119.7 L305,120.6 L306.5,121.5 L308,122.4 L309.5,123.3 L311,124.3 L312.5,125.3 L314,126.3 L315.5,127.4 L317,128.5 L318.5,129.6 L320,130.8 L321.5,132 L323,133.2 L324.5,134.5 L326,135.7 L327.5,137.1 L329,138.5 L330.5,139.9 L332,141.3 L333.5,142.8 L335,144.3 L336.5,145.9 L338,147.5 L339.5,149.1 L341,150.8 L342.5,152.5 L344,154.3 L345.5,156.1 L347,158 L348.5,159.9 L350,161.9 L351.5,163.9 L353,165.9 L354.5,168 L356,170.2 L357.5,172.4 L359,174.6 L360.5,176.9 L362,179.3 L363.5,181.7 L365,184.2 L366.5,186.7 L368,189.3 L369.5,191.9 L371,194.6 L372.5,197.3 L374,200.1 L375.5,203 L377.1,205.9 L378.6,208.9 L380.1,211.9 L381.6,215 L383.1,218.1 L384.6,221.2 L386.1,224.3 L387.6,227.5 L389.1,230.6 L390.6,233.8 L392.1,236.9 L393.6,240.1 L395.1,243.2 L396.6,246.3 L398.1,249.5 L399.6,252.6 L401.1,255.8 L402.6,258.9 L404.1,262.1 L405.6,265.3 L407.1,268.5 L408.6,271.8 L410.1,275 L411.6,278.2 L413.1,281.5 L414.6,284.8 L416.1,288 L417.6,291.3 L419.1,294.5 L420.6,297.8 L422.1,301.1 L423.6,304.3 L425.1,307.5 L426.6,310.7 L428.1,313.8 L429.6,316.8 L431.1,319.8 L432.6,322.7 L434.1,325.4 L435.6,328.1 L437.1,330.6 L438.6,333.1 L440.1,335.4 L441.6,337.7 L443.1,339.9 L444.6,342.1 L446.1,344.1 L447.6,346.1 L449.1,348.1 L450.6,349.9 L452.1,351.7 L453.6,353.5 L455.1,355.3 L456.6,356.9 L458.2,358.6 L459.7,360.2 L461.2,361.8 L462.7,363.4 L464.2,364.9 L465.7,366.4 L467.2,367.9 L468.7,369.3 L470.2,370.8 L471.7,372.2 L473.2,373.5 L474.7,374.9 L476.2,376.2 L477.7,377.5 L479.2,378.7 L480.7,380 L482.2,381.2 L483.7,382.4 L485.2,383.5 L486.7,384.7 L488.2,385.8 L489.7,386.9 L491.2,388 L492.7,389 L494.2,390 L495.7,391.1 L497.2,392 L498.7,393 L500.2,394 L501.7,394.9 L503.2,395.8 L504.7,396.7 L506.2,397.5 L507.7,398.4 L509.2,399.2 L510.7,400 L512.2,400.8 L513.7,401.6 L515.2,402.4 L516.7,403.1 L518.2,403.9 L519.7,404.6 L521.2,405.3 L522.7,406 L524.2,406.6 L525.7,407.3 L527.2,407.9 L528.7,408.6 L530.2,409.2 L531.7,409.8 L533.2,410.4 L534.7,411 L536.2,411.5 L537.7,412.1 L539.3,412.6 L540.8,413.2 L542.3,413.7 L543.8,414.2 L545.3,414.7 L546.8,415.2 L548.3,415.7 L549.8,416.2 L551.3,416.7 L552.8,417.1 L554.3,417.6 L555.8,418 L557.3,418.5 L558.8,418.9 L560.3,419.4 L561.8,419.8 L563.3,420.2 L564.8,420.6 L566.3,421.1 L567.8,421.5 L569.3,421.9 L570.8,422.3 L572.3,422.7 L573.8,423 L575.3,423.4 L576.8,423.8 L578.3,424.2 L579.8,424.5 L581.3,424.9 L582.8,425.3 L584.3,425.6 L585.8,426 L587.3,426.3 L588.8,426.7 L590.3,427 L591.8,427.3 L593.3,427.6 L594.8,428 L596.3,428.3 L597.8,428.6 L599.3,428.9 L600.8,429.2 L602.3,429.5 L603.8,429.8 L605.3,430.1 L606.8,430.4 L608.3,430.7 L609.8,430.9 L611.3,431.2 L612.8,431.5 L614.3,431.7 L615.8,432 L617.3,432.3 L618.8,432.5 L620.4,432.8 L621.9,433 L623.4,433.2 L624.9,433.5 L626.4,433.7 L627.9,433.9 L629.4,434.2 L630.9,434.4 L632.4,434.6 L633.9,434.8 L635.4,435 L636.9,435.2 L638.4,435.4 L639.9,435.6 L641.4,435.8 L642.9,436 L644.4,436.2 L645.9,436.4 L647.4,436.6 L648.9,436.8 L650.4,437 L651.9,437.1 L653.4,437.3 L654.9,437.5 L656.4,437.6 L657.9,437.8 L659.4,438 L660.9,438.1 L662.4,438.3 L663.9,438.4 L665.4,438.6 L666.9,438.7 L668.4,438.8 L669.9,439 L671.4,439.1 L672.9,439.2 L674.4,439.4 L675.9,439.5 L677.4,439.6 L678.9,439.8 L680.4,439.9 L681.9,440 L683.4,440.1 L684.9,440.2 L686.4,440.3 L687.9,440.4 L689.4,440.5 L690.9,440.6 L692.4,440.7 L693.9,440.8 L695.4,440.9 L696.9,441 L698.4,441.1 L699.9,441.2 L701.5,441.3 L703,441.4 L704.5,441.5 L706,441.5 L707.5,441.6 L709,441.7 L710.5,441.8 L712,441.9 L713.5,441.9 L715,442 L716.5,442.1 L718,442.1 L719.5,442.2 L721,442.3 L722.5,442.3 L724,442.4 L725.5,442.4 L727,442.5 L728.5,442.6 L730,442.6 L731.5,442.7 L733,442.7 L734.5,442.8 L736,442.8 L737.5,442.9 L739,442.9 L740.5,443" stroke="#00ff00"/>
<polyline points="93.6,54.4 94.5,53.4 95.3,54.6" stroke="#00ff00" stroke-width="1.4"/>
<path d="M126.7,246.5 L128.2,247.6 L129.7,248.7 L131.2,249.8 L132.7,250.9 L134.2,252 L135.7,253 L137.2,254 L138.7,255.1 L140.2,256.1 L141.7,257.1 L143.2,258 L144.7,259 L146.3,260 L147.8,260.9 L149.3,261.8 L150.8,262.8 L152.3,263.7 L153.8,264.6 L155.3,265.4 L156.8,266.3 L158.3,267.2 L159.8,268 L161.3,268.9 L162.8,269.7 L164.3,270.5 L165.8,271.3 L167.3,272.1 L168.8,272.8 L170.3,273.6 L171.8,274.4 L173.3,275.1 L174.8,275.8 L176.3,276.6 L177.8,277.3 L179.3,278 L180.8,278.7 L182.4,279.4 L183.9,280 L185.4,280.7 L186.9,281.4 L188.4,282 L189.9,282.6 L191.4,283.3 L192.9,283.9 L194.4,284.5 L195.9,285.1 L197.4,285.7 L198.9,286.3 L200.4,286.8 L201.9,287.4 L203.4,288 L204.9,288.5 L206.4,289 L207.9,289.6 L209.4,290.1 L210.9,290.6 L212.4,291.1 L213.9,291.6 L215.4,292.1 L216.9,292.6 L218.5,293.1 L220,293.6 L221.5,294 L223,294.5 L224.5,295 L226,295.4 L227.5,295.9 L229,296.3 L230.5,296.7 L232,297.2 L233.5,297.6 L235,298 L236.5,298.4 L238,298.8 L239.5,299.2 L241,299.6 L242.5,300 L244,300.4 L245.5,300.8 L247,301.1 L248.5,301.5 L250,301.9 L251.5,302.2 L253,302.6 L254.6,302.9 L256.1,303.3 L257.6,303.6 L259.1,304 L260.6,304.3 L262.1,304.7 L263.6,305 L265.1,305.3 L266.6,305.6 L268.1,306 L269.6,306.3 L271.1,306.6 L272.6,306.9 L274.1,307.3 L275.6,307.6 L277.1,307.9 L278.6,308.2 L280.1,308.5 L281.6,308.8 L283.1,309.1 L284.6,309.4 L286.1,309.7 L287.6,310 L289.1,310.4 L290.6,310.7 L292.2,311 L293.7,311.3 L295.2,311.6 L296.7,311.9 L298.2,312.2 L299.7,312.5 L301.2,312.8 L302.7,313.1 L304.2,313.4 L305.7,313.7 L307.2,314 L308.7,314.3 L310.2,314.7 L311.7,315 L313.2,315.3 L314.7,315.6 L316.2,315.9 L317.7,316.3 L319.2,316.6 L320.7,316.9 L322.2,317.2 L323.7,317.6 L325.2,317.9 L326.7,318.3 L328.3,318.6 L329.8,319 L331.3,319.3 L332.8,319.7 L334.3,320 L335.8,320.4 L337.3,320.8 L338.8,321.1 L340.3,321.5 L341.8,321.9 L343.3,322.3 L344.8,322.7 L346.3,323.1 L347.8,323.5 L349.3,323.9 L350.8,324.3 L352.3,324.7 L353.8,325.1 L355.3,325.6 L356.8,326 L358.3,326.4 L359.8,326.9 L361.3,327.3 L362.8,327.8 L364.4,328.3 L365.9,328.7 L367.4,329.2 L368.9,329.7 L370.4,330.2 L371.9,330.7 L373.4,331.2 L374.9,331.8 L376.4,332.3 L377.9,332.8 L379.4,333.4 L380.9,333.9 L382.4,334.5" stroke="#000000"/>
<path d="M126.7,287 L128.2,287.5 L129.7,288.1 L131.2,288.6 L132.7,289.1 L134.2,289.6 L135.7,290 L137.2,290.5 L138.7,291 L140.2,291.4 L141.7,291.8 L143.2,292.2 L144.7,292.6 L146.3,293 L147.8,293.4 L149.3,293.8 L150.8,294.2 L152.3,294.5 L153.8,294.9 L155.3,295.2 L156.8,295.5 L158.3,295.9 L159.8,296.2 L161.3,296.5 L162.8,296.8 L164.3,297.1 L165.8,297.4 L167.3,297.7 L168.8,297.9 L170.3,298.2 L171.8,298.5 L173.3,298.8 L174.8,299 L176.3,299.3 L177.8,299.5 L179.3,299.8 L180.8,300 L182.4,300.3 L183.9,300.5 L185.4,300.8 L186.9,301 L188.4,301.3 L189.9,301.5 L191.4,301.7 L192.9,302 L194.4,302.2 L195.9,302.5 L197.4,302.7 L198.9,303 L200.4,303.2 L201.9,303.5 L203.4,303.7 L204.9,304 L206.4,304.3 L207.9,304.5 L209.4,304.8 L210.9,305.1 L212.4,305.4 L213.9,305.6 L215.4,305.9 L216.9,306.2 L218.5,306.5 L220,306.9 L221.5,307.2 L223,307.5 L224.5,307.8 L226,308.2 L227.5,308.5 L229,308.9 L230.5,309.3 L232,309.6 L233.5,310 L235,310.4 L236.5,310.8 L238,311.3 L239.5,311.7 L241,312.1 L242.5,312.6 L244,313.1 L245.5,313.5 L247,314 L248.5,314.5 L250,315 L251.5,315.6 L253,316.1 L254.6,316.7 L256.1,317.2 L257.6,317.8 L259.1,318.4 L260.6,319 L262.1,319.6 L263.6,320.3 L265.1,320.9 L266.6,321.6 L268.1,322.2 L269.6,322.9 L271.1,323.6 L272.6,324.3 L274.1,325 L275.6,325.7 L277.1,326.5 L278.6,327.2 L280.1,328 L281.6,328.8 L283.1,329.5 L284.6,330.3 L286.1,331.1 L287.6,332 L289.1,332.8 L290.6,333.6 L292.2,334.5 L293.7,335.4 L295.2,336.2 L296.7,337.1 L298.2,338 L299.7,338.9 L301.2,339.9 L302.7,340.8 L304.2,341.7 L305.7,342.7 L307.2,343.7 L308.7,344.7 L310.2,345.6 L311.7,346.7 L313.2,347.7 L314.7,348.7 L316.2,349.7 L317.7,350.8 L319.2,351.8 L320.7,352.9 L322.2,354 L323.7,355.1 L325.2,356.2 L326.7,357.3 L328.3,358.4 L329.8,359.5 L331.3,360.7 L332.8,361.8 L334.3,363 L335.8,364.2 L337.3,365.4 L338.8,366.6 L340.3,367.8 L341.8,369 L343.3,370.2 L344.8,371.5 L346.3,372.7 L347.8,374 L349.3,375.3 L350.8,376.5 L352.3,377.8 L353.8,379.1 L355.3,380.4 L356.8,381.8 L358.3,383.1 L359.8,384.4 L361.3,385.8 L362.8,387.2 L364.4,388.5 L365.9,389.9 L367.4,391.3 L368.9,392.7 L370.4,394.1 L371.9,395.6 L373.4,397 L374.9,398.4 L376.4,399.9 L377.9,401.3 L379.4,402.8 L380.9,404.3 L382.4,405.8" stroke="#80ffff"/>
<path d="M126.7,267.5 L128.2,268.4 L129.7,269.3 L131.2,270.1 L132.7,271 L134.2,271.8 L135.7,272.6 L137.2,273.4 L138.7,274.2 L140.2,275 L141.7,275.8 L143.2,276.5 L144.7,277.3 L146.3,278 L147.8,278.7 L149.3,279.4 L150.8,280.1 L152.3,280.8 L153.8,281.5 L155.3,282.1 L156.8,282.8 L158.3,283.4 L159.8,284 L161.3,284.6 L162.8,285.3 L164.3,285.9 L165.8,286.4 L167.3,287 L168.8,287.6 L170.3,288.1 L171.8,288.7 L173.3,289.2 L174.8,289.8 L176.3,290.3 L177.8,290.8 L179.3,291.3 L180.8,291.8 L182.4,292.3 L183.9,292.8 L185.4,293.3 L186.9,293.8 L188.4,294.3 L189.9,294.7 L191.4,295.2 L192.9,295.6 L194.4,296.1 L195.9,296.5 L197.4,296.9 L198.9,297.4 L200.4,297.8 L201.9,298.2 L203.4,298.6 L204.9,299 L206.4,299.4 L207.9,299.8 L209.4,300.2 L210.9,300.6 L212.4,301 L213.9,301.4 L215.4,301.8 L216.9,302.1 L218.5,302.5 L220,302.9 L221.5,303.3 L223,303.6 L224.5,304 L226,304.4 L227.5,304.7 L229,305.1 L230.5,305.5 L232,305.8 L233.5,306.2 L235,306.5 L236.5,306.9 L238,307.3 L239.5,307.6 L241,308 L242.5,308.3 L244,308.7 L245.5,309.1 L247,309.4 L248.5,309.8 L250,310.1 L251.5,310.5 L253,310.9 L254.6,311.3 L256.1,311.6 L257.6,312 L259.1,312.4 L260.6,312.8 L262.1,313.1 L263.6,313.5 L265.1,313.9 L266.6,314.3 L268.1,314.7 L269.6,315.1 L271.1,315.5 L272.6,315.9 L274.1,316.3 L275.6,316.7 L277.1,317.2 L278.6,317.6 L280.1,318 L281.6,318.4 L283.1,318.9 L284.6,319.3 L286.1,319.8 L287.6,320.2 L289.1,320.7 L290.6,321.1 L292.2,321.6 L293.7,322.1 L295.2,322.6 L296.7,323.1 L298.2,323.6 L299.7,324.1 L301.2,324.6 L302.7,325.1 L304.2,325.6 L305.7,326.1 L307.2,326.7 L308.7,327.2 L310.2,327.8 L311.7,328.3 L313.2,328.9 L314.7,329.5 L316.2,330.1 L317.7,330.7 L319.2,331.3 L320.7,331.9 L322.2,332.5 L323.7,333.1 L325.2,333.8 L326.7,334.4 L328.3,335.1 L329.8,335.7 L331.3,336.4 L332.8,337.1 L334.3,337.8 L335.8,338.5 L337.3,339.2 L338.8,339.9 L340.3,340.7 L341.8,341.4 L343.3,342.2 L344.8,343 L346.3,343.7 L347.8,344.5 L349.3,345.3 L350.8,346.2 L352.3,347 L353.8,347.8 L355.3,348.7 L356.8,349.6 L358.3,350.4 L359.8,351.3 L361.3,352.2 L362.8,353.1 L364.4,354.1 L365.9,355 L367.4,356 L368.9,357 L370.4,357.9 L371.9,358.9 L373.4,359.9 L374.9,361 L376.4,362 L377.9,363.1 L379.4,364.1 L380.9,365.2 L382.4,366.3" stroke="#0000ff"/>
<path d="M126.7,282.6 L128.2,283.2 L129.7,283.7 L131.2,284.3 L132.7,284.8 L134.2,285.3 L135.7,285.8 L137.2,286.2 L138.7,286.7 L140.2,287.1 L141.7,287.6 L143.2,288 L144.7,288.4 L146.3,288.8 L147.8,289.2 L149.3,289.6 L150.8,290 L152.3,290.4 L153.8,290.7 L155.3,291.1 L156.8,291.4 L158.3,291.7 L159.8,292.1 L161.3,292.4 L162.8,292.7 L164.3,293 L165.8,293.3 L167.3,293.6 L168.8,293.9 L170.3,294.2 L171.8,294.4 L173.3,294.7 L174.8,295 L176.3,295.2 L177.8,295.5 L179.3,295.7 L180.8,296 L182.4,296.2 L183.9,296.5 L185.4,296.7 L186.9,296.9 L188.4,297.2 L189.9,297.4 L191.4,297.6 L192.9,297.8 L194.4,298.1 L195.9,298.3 L197.4,298.5 L198.9,298.8 L200.4,299 L201.9,299.2 L203.4,299.4 L204.9,299.7 L206.4,299.9 L207.9,300.1 L209.4,300.3 L210.9,300.6 L212.4,300.8 L213.9,301.1 L215.4,301.3 L216.9,301.5 L218.5,301.8 L220,302 L221.5,302.3 L223,302.6 L224.5,302.8 L226,303.1 L227.5,303.4 L229,303.7 L230.5,303.9 L232,304.2 L233.5,304.5 L235,304.8 L236.5,305.2 L238,305.5 L239.5,305.8 L241,306.1 L242.5,306.5 L244,306.8 L245.5,307.2 L247,307.6 L248.5,308 L250,308.3 L251.5,308.7 L253,309.1 L254.6,309.6 L256.1,310 L257.6,310.4 L259.1,310.9 L260.6,311.3 L262.1,311.8 L263.6,312.2 L265.1,312.7 L266.6,313.2 L268.1,313.7 L269.6,314.2 L271.1,314.7 L272.6,315.3 L274.1,315.8 L275.6,316.4 L277.1,316.9 L278.6,317.5 L280.1,318.1 L281.6,318.7 L283.1,319.2 L284.6,319.9 L286.1,320.5 L287.6,321.1 L289.1,321.7 L290.6,322.4 L292.2,323.1 L293.7,323.7 L295.2,324.4 L296.7,325.1 L298.2,325.8 L299.7,326.5 L301.2,327.2 L302.7,328 L304.2,328.7 L305.7,329.5 L307.2,330.2 L308.7,331 L310.2,331.8 L311.7,332.6 L313.2,333.4 L314.7,334.2 L316.2,335.1 L317.7,335.9 L319.2,336.8 L320.7,337.6 L322.2,338.5 L323.7,339.4 L325.2,340.3 L326.7,341.2 L328.3,342.2 L329.8,343.1 L331.3,344 L332.8,345 L334.3,346 L335.8,347 L337.3,348 L338.8,349 L340.3,350 L341.8,351 L343.3,352.1 L344.8,353.1 L346.3,354.2 L347.8,355.3 L349.3,356.4 L350.8,357.5 L352.3,358.6 L353.8,359.8 L355.3,360.9 L356.8,362.1 L358.3,363.2 L359.8,364.4 L361.3,365.6 L362.8,366.8 L364.4,368.1 L365.9,369.3 L367.4,370.6 L368.9,371.8 L370.4,373.1 L371.9,374.4 L373.4,375.7 L374.9,377 L376.4,378.4 L377.9,379.7 L379.4,381.1 L380.9,382.4 L382.4,383.8" stroke="#ff00ff"/>
<path d="M126.7,249.3 L128.2,250.2 L129.7,251.2 L131.2,252.1 L132.7,253 L134.2,253.9 L135.7,254.8 L137.2,255.7 L138.7,256.5 L140.2,257.4 L141.7,258.2 L143.2,259.1 L144.7,259.9 L146.3,260.7 L147.8,261.5 L149.3,262.3 L150.8,263.1 L152.3,263.9 L153.8,264.6 L155.3,265.4 L156.8,266.1 L158.3,266.9 L159.8,267.6 L161.3,268.3 L162.8,269 L164.3,269.7 L165.8,270.4 L167.3,271.1 L168.8,271.8 L170.3,272.4 L171.8,273.1 L173.3,273.7 L174.8,274.4 L176.3,275 L177.8,275.6 L179.3,276.2 L180.8,276.8 L182.4,277.4 L183.9,278 L185.4,278.6 L186.9,279.2 L188.4,279.8 L189.9,280.3 L191.4,280.9 L192.9,281.4 L194.4,282 L195.9,282.5 L197.4,283 L198.9,283.6 L200.4,284.1 L201.9,284.6 L203.4,285.1 L204.9,285.6 L206.4,286.1 L207.9,286.6 L209.4,287.1 L210.9,287.5 L212.4,288 L213.9,288.5 L215.4,288.9 L216.9,289.4 L218.5,289.9 L220,290.3 L221.5,290.8 L223,291.2 L224.5,291.6 L226,292.1 L227.5,292.5 L229,292.9 L230.5,293.3 L232,293.7 L233.5,294.2 L235,294.6 L236.5,295 L238,295.4 L239.5,295.8 L241,296.2 L242.5,296.6 L244,297 L245.5,297.3 L247,297.7 L248.5,298.1 L250,298.5 L251.5,298.9 L253,299.3 L254.6,299.6 L256.1,300 L257.6,300.4 L259.1,300.7 L260.6,301.1 L262.1,301.5 L263.6,301.9 L265.1,302.2 L266.6,302.6 L268.1,303 L269.6,303.3 L271.1,303.7 L272.6,304 L274.1,304.4 L275.6,304.8 L277.1,305.1 L278.6,305.5 L280.1,305.9 L281.6,306.2 L283.1,306.6 L284.6,307 L286.1,307.3 L287.6,307.7 L289.1,308.1 L290.6,308.4 L292.2,308.8 L293.7,309.2 L295.2,309.5 L296.7,309.9 L298.2,310.3 L299.7,310.7 L301.2,311.1 L302.7,311.4 L304.2,311.8 L305.7,312.2 L307.2,312.6 L308.7,313 L310.2,313.4 L311.7,313.8 L313.2,314.2 L314.7,314.6 L316.2,315 L317.7,315.4 L319.2,315.8 L320.7,316.2 L322.2,316.6 L323.7,317.1 L325.2,317.5 L326.7,317.9 L328.3,318.4 L329.8,318.8 L331.3,319.2 L332.8,319.7 L334.3,320.1 L335.8,320.6 L337.3,321.1 L338.8,321.5 L340.3,322 L341.8,322.5 L343.3,323 L344.8,323.5 L346.3,323.9 L347.8,324.4 L349.3,325 L350.8,325.5 L352.3,326 L353.8,326.5 L355.3,327 L356.8,327.6 L358.3,328.1 L359.8,328.7 L361.3,329.2 L362.8,329.8 L364.4,330.4 L365.9,330.9 L367.4,331.5 L368.9,332.1 L370.4,332.7 L371.9,333.3 L373.4,333.9 L374.9,334.6 L376.4,335.2 L377.9,335.8 L379.4,336.5 L380.9,337.1 L382.4,337.8" stroke="#ff0080"/>
<path d="M126.7,268 L128.2,268.8 L129.7,269.6 L131.2,270.4 L132.7,271.2 L134.2,272 L135.7,272.7 L137.2,273.4 L138.7,274.1 L140.2,274.8 L141.7,275.5 L143.2,276.2 L144.7,276.9 L146.3,277.5 L147.8,278.1 L149.3,278.7 L150.8,279.3 L152.3,279.9 L153.8,280.5 L155.3,281.1 L156.8,281.6 L158.3,282.2 L159.8,282.7 L161.3,283.2 L162.8,283.7 L164.3,284.2 L165.8,284.7 L167.3,285.1 L168.8,285.6 L170.3,286 L171.8,286.5 L173.3,286.9 L174.8,287.3 L176.3,287.7 L177.8,288.1 L179.3,288.5 L180.8,288.9 L182.4,289.3 L183.9,289.6 L185.4,290 L186.9,290.3 L188.4,290.7 L189.9,291 L191.4,291.3 L192.9,291.7 L194.4,292 L195.9,292.3 L197.4,292.6 L198.9,292.9 L200.4,293.2 L201.9,293.5 L203.4,293.7 L204.9,294 L206.4,294.3 L207.9,294.6 L209.4,294.8 L210.9,295.1 L212.4,295.3 L213.9,295.6 L215.4,295.8 L216.9,296.1 L218.5,296.3 L220,296.6 L221.5,296.8 L223,297 L224.5,297.3 L226,297.5 L227.5,297.8 L229,298 L230.5,298.2 L232,298.4 L233.5,298.7 L235,298.9 L236.5,299.1 L238,299.4 L239.5,299.6 L241,299.8 L242.5,300.1 L244,300.3 L245.5,300.6 L247,300.8 L248.5,301 L250,301.3 L251.5,301.5 L253,301.8 L254.6,302 L256.1,302.3 L257.6,302.6 L259.1,302.8 L260.6,303.1 L262.1,303.4 L263.6,303.6 L265.1,303.9 L266.6,304.2 L268.1,304.5 L269.6,304.8 L271.1,305.1 L272.6,305.4 L274.1,305.7 L275.6,306 L277.1,306.3 L278.6,306.6 L280.1,306.9 L281.6,307.2 L283.1,307.6 L284.6,307.9 L286.1,308.2 L287.6,308.6 L289.1,308.9 L290.6,309.2 L292.2,309.6 L293.7,309.9 L295.2,310.3 L296.7,310.7 L298.2,311 L299.7,311.4 L301.2,311.8 L302.7,312.1 L304.2,312.5 L305.7,312.9 L307.2,313.3 L308.7,313.7 L310.2,314.1 L311.7,314.5 L313.2,314.9 L314.7,315.3 L316.2,315.7 L317.7,316.2 L319.2,316.6 L320.7,317 L322.2,317.4 L323.7,317.9 L325.2,318.3 L326.7,318.8 L328.3,319.2 L329.8,319.7 L331.3,320.2 L332.8,320.6 L334.3,321.1 L335.8,321.6 L337.3,322.1 L338.8,322.6 L340.3,323 L341.8,323.5 L343.3,324.1 L344.8,324.6 L346.3,325.1 L347.8,325.6 L349.3,326.1 L350.8,326.6 L352.3,327.2 L353.8,327.7 L355.3,328.3 L356.8,328.8 L358.3,329.4 L359.8,329.9 L361.3,330.5 L362.8,331.1 L364.4,331.7 L365.9,332.2 L367.4,332.8 L368.9,333.4 L370.4,334 L371.9,334.6 L373.4,335.2 L374.9,335.8 L376.4,336.5 L377.9,337.1 L379.4,337.7 L380.9,338.4 L382.4,339" stroke="#00ff00"/>
</g>
<g fill="none" stroke="#000" stroke-width="2">
<rect x="107" y="579" width="613" height="447"/>
<line x1="123" y1="1026" x2="123" y2="1021"/>
<line x1="177.2" y1="1026" x2="177.2" y2="1017"/>
<line x1="231.4" y1="1026" x2="231.4" y2="1021"/>
<line x1="285.6" y1="1026" x2="285.6" y2="1017"/>
<line x1="339.8" y1="1026" x2="339.8" y2="1021"/>
<line x1="394" y1="1026" x2="394" y2="1017"/>
<line x1="448.2" y1="1026" x2="448.2" y2="1021"/>
<line x1="502.4" y1="1026" x2="502.4" y2="1017"/>
<line x1="556.6" y1="1026" x2="556.6" y2="1021"/>
<line x1="610.8" y1="1026" x2="610.8" y2="1017"/>
<line x1="665" y1="1026" x2="665" y2="1021"/>
<line x1="719.2" y1="1026" x2="719.2" y2="1017"/>
</g>
<g font-family="Liberation Sans, sans-serif" fill="#000">
<path transform="translate(160.9,1052.3) scale(0.00952,-0.00948)" d="M763,0H583V1147Q518,1085 412,1023T223,930V1104Q374,1175 487,1276T647,1472H763Z"/>
<text transform="translate(171.8,1052.3) scale(1,1.04)" font-size="19.5">00</text>
<text transform="translate(285.6,1052.3) scale(1,1.04)" font-size="19.5" text-anchor="middle">200</text>
<text transform="translate(394,1052.3) scale(1,1.04)" font-size="19.5" text-anchor="middle">300</text>
<text transform="translate(502.4,1052.3) scale(1,1.04)" font-size="19.5" text-anchor="middle">400</text>
<text transform="translate(610.8,1052.3) scale(1,1.04)" font-size="19.5" text-anchor="middle">500</text>
<text transform="translate(719.2,1052.3) scale(1,1.04)" font-size="19.5" text-anchor="middle">600</text>
<text transform="translate(323.2,1091.7)" font-size="24.5">Temperature(°C)</text>
<text transform="translate(81.8,908) rotate(-90)" font-size="24.2">DTG(%/min)</text>
<text transform="translate(687.5,603.5)" font-size="23.4">(b)</text>
<text transform="translate(666.3,616.2)" font-size="22" text-anchor="middle">A</text>
<text transform="translate(666.3,652.5)" font-size="22" text-anchor="middle">B</text>
<text transform="translate(666.3,693.2)" font-size="22" text-anchor="middle">C</text>
<text transform="translate(666.3,764.7)" font-size="22" text-anchor="middle">D</text>
<text transform="translate(666.3,798.3)" font-size="22" text-anchor="middle">E</text>
<text transform="translate(666.3,834.9)" font-size="22" text-anchor="middle">F</text>
</g>
<g fill="none" stroke-width="2" stroke-linejoin="round" stroke-linecap="round">
<path d="M107.5,620 L109,620.7 L110.5,621.3 L112,622 L113.5,622.6 L115,623.2 L116.5,623.8 L118,624.4 L119.5,624.9 L121,625.5 L122.5,626.1 L124,626.7 L125.5,627.2 L127,627.8 L128.5,628.4 L130,629 L131.5,629.6 L133,630.3 L134.5,630.9 L136,631.6 L137.5,632.3 L139,633.1 L140.5,633.8 L142.1,634.6 L143.6,635.4 L145.1,636.2 L146.6,637 L148.1,637.8 L149.6,638.6 L151.1,639.4 L152.6,640.2 L154.1,641 L155.6,641.7 L157.1,642.5 L158.6,643.2 L160.1,643.9 L161.6,644.5 L163.1,645.1 L164.6,645.7 L166.1,646.2 L167.6,646.7 L169.1,647.1 L170.6,647.5 L172.1,647.7 L173.6,648 L175.1,648.1 L176.6,648.2 L178.1,648.2 L179.6,648.1 L181.1,647.9 L182.6,647.6 L184.1,647.2 L185.6,646.7 L187.1,646.2 L188.6,645.5 L190.1,644.7 L191.6,643.9 L193.1,643 L194.6,642.1 L196.1,641.2 L197.6,640.2 L199.1,639.2 L200.6,638.3 L202.1,637.3 L203.6,636.4 L205.1,635.5 L206.6,634.5 L208.1,633.7 L209.7,632.8 L211.2,631.9 L212.7,631.1 L214.2,630.3 L215.7,629.5 L217.2,628.8 L218.7,628.1 L220.2,627.4 L221.7,626.7 L223.2,626.1 L224.7,625.5 L226.2,625 L227.7,624.5 L229.2,624 L230.7,623.6 L232.2,623.2 L233.7,622.9 L235.2,622.6 L236.7,622.3 L238.2,622.1 L239.7,622 L241.2,621.9 L242.7,621.9 L244.2,621.9 L245.7,622 L247.2,622.1 L248.7,622.2 L250.2,622.5 L251.7,622.7 L253.2,623 L254.7,623.4 L256.2,623.7 L257.7,624.1 L259.2,624.6 L260.7,625.1 L262.2,625.6 L263.7,626.1 L265.2,626.7 L266.7,627.3 L268.2,627.9 L269.7,628.5 L271.2,629.1 L272.7,629.8 L274.2,630.5 L275.7,631.2 L277.3,631.9 L278.8,632.6 L280.3,633.3 L281.8,634 L283.3,634.7 L284.8,635.4 L286.3,636.2 L287.8,637 L289.3,637.8 L290.8,638.7 L292.3,639.7 L293.8,640.7 L295.3,641.7 L296.8,642.9 L298.3,644.1 L299.8,645.4 L301.3,646.8 L302.8,648.3 L304.3,650 L305.8,651.7 L307.3,653.6 L308.8,655.6 L310.3,657.7 L311.8,660 L313.3,662.5 L314.8,665 L316.3,667.8 L317.8,670.6 L319.3,673.5 L320.8,676.4 L322.3,679.3 L323.8,682.2 L325.3,685 L326.8,687.8 L328.3,690.7 L329.8,693.6 L331.3,696.5 L332.8,699.6 L334.3,702.8 L335.8,706.1 L337.3,709.3 L338.8,712.6 L340.3,715.7 L341.8,718.7 L343.3,721.6 L344.9,724.2 L346.4,726.4 L347.9,728.2 L349.4,729.5 L350.9,730.2 L352.4,730.3 L353.9,729.7 L355.4,728.6 L356.9,727 L358.4,725.1 L359.9,722.8 L361.4,720.5 L362.9,718.2 L364.4,716 L365.9,714.2 L367.4,712.9 L368.9,712 L370.4,711.6 L371.9,711.5 L373.4,711.7 L374.9,712.1 L376.4,712.7 L377.9,713.4 L379.4,714.1 L380.9,714.9 L382.4,715.7 L383.9,716.7 L385.4,718 L386.9,719.8 L388.4,722.1 L389.9,725 L391.4,728.4 L392.9,731.9 L394.4,735.7 L395.9,739.5 L397.4,743.1 L398.9,746.5 L400.4,749.6 L401.9,752.1 L403.4,754.1 L404.9,755.5 L406.4,756.6 L407.9,757.5 L409.4,758.5 L410.9,759.8 L412.4,761.3 L414,762.8 L415.5,764.4 L417,765.7 L418.5,766.8 L420,767.5 L421.5,767.7 L423,767.3 L424.5,766.2 L426,764.5 L427.5,762 L429,758.8 L430.5,754.8 L432,750.4 L433.5,745.7 L435,740.8 L436.5,736.1 L438,731.8 L439.5,727.8 L441,724.2 L442.5,720.9 L444,717.9 L445.5,715.1 L447,712.4 L448.5,709.8 L450,707.3 L451.5,704.7 L453,702.1 L454.5,699.6 L456,697 L457.5,694.5 L459,692.1 L460.5,689.6 L462,687.2 L463.5,684.9 L465,682.7 L466.5,680.5 L468,678.5 L469.5,676.5 L471,674.7 L472.5,673 L474,671.4 L475.5,669.8 L477,668.4 L478.5,667 L480,665.7 L481.6,664.5 L483.1,663.3 L484.6,662.1 L486.1,661 L487.6,659.9 L489.1,658.8 L490.6,657.8 L492.1,656.8 L493.6,655.8 L495.1,654.8 L496.6,653.8 L498.1,652.9 L499.6,652 L501.1,651.2 L502.6,650.3 L504.1,649.5 L505.6,648.7 L507.1,647.9 L508.6,647.1 L510.1,646.4 L511.6,645.6 L513.1,644.9 L514.6,644.2 L516.1,643.5 L517.6,642.9 L519.1,642.2 L520.6,641.6 L522.1,641 L523.6,640.4 L525.1,639.8 L526.6,639.2 L528.1,638.6 L529.6,638.1 L531.1,637.5 L532.6,637 L534.1,636.5 L535.6,635.9 L537.1,635.4 L538.6,634.9 L540.1,634.4 L541.6,634 L543.1,633.5 L544.6,633 L546.1,632.6 L547.6,632.1 L549.2,631.7 L550.7,631.3 L552.2,630.9 L553.7,630.4 L555.2,630 L556.7,629.6 L558.2,629.3 L559.7,628.9 L561.2,628.5 L562.7,628.1 L564.2,627.8 L565.7,627.4 L567.2,627.1 L568.7,626.7 L570.2,626.4 L571.7,626.1 L573.2,625.8 L574.7,625.5 L576.2,625.2 L577.7,624.9 L579.2,624.6 L580.7,624.3 L582.2,624 L583.7,623.8 L585.2,623.5 L586.7,623.2 L588.2,623 L589.7,622.7 L591.2,622.5 L592.7,622.3 L594.2,622.1 L595.7,621.8 L597.2,621.6 L598.7,621.4 L600.2,621.2 L601.7,621 L603.2,620.8 L604.7,620.6 L606.2,620.4 L607.7,620.3 L609.2,620.1 L610.7,619.9 L612.2,619.8 L613.7,619.6 L615.2,619.4 L616.8,619.3 L618.3,619.1 L619.8,619 L621.3,618.9 L622.8,618.7 L624.3,618.6 L625.8,618.5 L627.3,618.4 L628.8,618.2 L630.3,618.1 L631.8,618 L633.3,617.9 L634.8,617.8 L636.3,617.7 L637.8,617.6 L639.3,617.5 L640.8,617.4 L642.3,617.3 L643.8,617.2 L645.3,617.2 L646.8,617.1 L648.3,617 L649.8,616.9 L651.3,616.9 L652.8,616.8 L654.3,616.7 L655.8,616.7 L657.3,616.6 L658.8,616.5 L660.3,616.5 L661.8,616.4 L663.3,616.4 L664.8,616.3 L666.3,616.3 L667.8,616.2 L669.3,616.2 L670.8,616.1 L672.3,616.1 L673.8,616.1 L675.3,616 L676.8,616 L678.3,616 L679.8,615.9 L681.3,615.9 L682.8,615.9 L684.4,615.9 L685.9,615.9 L687.4,615.8 L688.9,615.8 L690.4,615.8 L691.9,615.8 L693.4,615.8 L694.9,615.8 L696.4,615.8 L697.9,615.8 L699.4,615.8 L700.9,615.8 L702.4,615.8 L703.9,615.8 L705.4,615.8 L706.9,615.8 L708.4,615.6 L709.9,615.4 L711.4,615 L712.9,614.3 L714.4,613.5 L715.9,612.4 L717.4,610.9" stroke="#000000"/>
<path d="M107.5,674.5 L109,675.4 L110.5,676.3 L112,677.3 L113.5,678.4 L115,679.4 L116.5,680.5 L118,681.7 L119.5,682.8 L121,683.9 L122.5,685 L124,686.1 L125.5,687.1 L127,688.2 L128.5,689.1 L130,690.1 L131.5,690.9 L133,691.7 L134.5,692.4 L136,693.1 L137.5,693.6 L139,694 L140.5,694.3 L142,694.5 L143.5,694.5 L145,694.5 L146.5,694.2 L148,693.9 L149.5,693.4 L151,692.8 L152.5,692.2 L154,691.4 L155.5,690.5 L157,689.6 L158.5,688.6 L160,687.5 L161.5,686.4 L163,685.3 L164.5,684.1 L166,682.8 L167.5,681.6 L169,680.3 L170.5,679.1 L172,677.8 L173.5,676.6 L175,675.4 L176.5,674.2 L178,673.1 L179.5,672 L181,670.9 L182.5,670 L184,669.1 L185.5,668.2 L187,667.5 L188.5,666.8 L190,666.2 L191.5,665.6 L193,665.1 L194.5,664.7 L196,664.4 L197.5,664.1 L199,663.9 L200.5,663.8 L202,663.7 L203.5,663.7 L205,663.8 L206.5,664 L208,664.2 L209.5,664.5 L211,664.8 L212.5,665.2 L214,665.7 L215.5,666.3 L217,666.9 L218.5,667.6 L220,668.4 L221.5,669.2 L223,670 L224.5,671 L226,671.9 L227.5,672.9 L229,674 L230.5,675 L232,676.1 L233.5,677.2 L235,678.4 L236.5,679.5 L238,680.6 L239.5,681.8 L241,682.9 L242.5,684 L244,685.1 L245.5,686.2 L247,687.3 L248.5,688.3 L250,689.3 L251.5,690.3 L253,691.3 L254.5,692.2 L256,693.1 L257.5,694 L259,694.9 L260.5,695.8 L262,696.7 L263.5,697.5 L265,698.4 L266.5,699.2 L268,700.1 L269.5,700.9 L271,701.8 L272.5,702.6 L274,703.4 L275.5,704.2 L277,705 L278.5,705.8 L280,706.6 L281.5,707.4 L283,708.1 L284.5,708.9 L286,709.6 L287.5,710.4 L289,711.1 L290.5,711.8 L292,712.4 L293.5,713.1 L295,713.7 L296.5,714.4 L298,715 L299.5,715.6 L301,716.3 L302.5,717 L304,717.7 L305.5,718.4 L307,719.2 L308.5,720.1 L310,721.1 L311.5,722.2 L313,723.3 L314.5,724.5 L316,725.8 L317.5,727.1 L319,728.4 L320.5,729.7 L322,731 L323.5,732.3 L325,733.6 L326.5,734.8 L328,736 L329.5,737 L331,738 L332.5,738.9 L334,739.7 L335.5,740.3 L337,740.8 L338.5,741.1 L340,741.3 L341.5,741.3 L343,741 L344.5,740.6 L346,740 L347.5,739.4 L349,738.6 L350.5,737.9 L352,737.2 L353.5,736.6 L355,736.1 L356.5,735.7 L358,735.6 L359.5,735.7 L361,736 L362.5,736.3 L364,736.6 L365.5,737 L367,737.2 L368.5,737.2 L370,737.1 L371.5,736.9 L373,736.8 L374.5,736.8 L376,737 L377.5,737.4 L379,738.2 L380.5,739.4 L382,740.9 L383.5,742.6 L385,744.4 L386.5,746.1 L388,747.8 L389.5,749.3 L391,750.8 L392.5,752.3 L394,753.8 L395.5,755.6 L397,757.5 L398.5,759.8 L400,762.5 L401.5,765.7 L403,769.2 L404.5,773 L406,777 L407.5,781.1 L409,785.2 L410.5,789.3 L412,793.2 L413.5,796.8 L415,799.9 L416.5,802.5 L418,804.4 L419.5,805.6 L421,806.2 L422.5,806.3 L424,805.8 L425.5,804.9 L427,803.5 L428.5,801.6 L430,799.2 L431.5,796.3 L433,793.1 L434.5,789.6 L436,785.8 L437.5,781.8 L439,777.8 L440.5,773.7 L442,769.6 L443.5,765.6 L445,761.8 L446.5,758.2 L448,754.8 L449.5,751.6 L451,748.5 L452.5,745.5 L454,742.6 L455.5,739.7 L457,736.9 L458.5,734.1 L460,731.4 L461.5,728.8 L463,726.2 L464.5,723.6 L466,721.1 L467.5,718.7 L469,716.4 L470.5,714.1 L472,712 L473.5,709.9 L475,707.9 L476.5,706 L478,704.2 L479.5,702.5 L481,700.9 L482.5,699.4 L484,698 L485.5,696.8 L487,695.6 L488.5,694.6 L490,693.6 L491.5,692.8 L493,692 L494.5,691.2 L496,690.5 L497.5,689.8 L499,689.1 L500.5,688.4 L502,687.7 L503.5,687.1 L505,686.4 L506.5,685.7 L508,685.1 L509.5,684.5 L511,683.8 L512.5,683.2 L514,682.6 L515.5,682 L517,681.4 L518.5,680.8 L520,680.2 L521.5,679.6 L523,679 L524.5,678.5 L526,677.9 L527.5,677.4 L529,676.9 L530.5,676.4 L532,675.8 L533.5,675.3 L535,674.8 L536.5,674.4 L538,673.9 L539.5,673.4 L541,673 L542.5,672.5 L544,672.1 L545.5,671.7 L547,671.3 L548.5,670.8 L550,670.5 L551.5,670.1 L553,669.7 L554.5,669.3 L556,668.9 L557.5,668.6 L559,668.2 L560.5,667.9 L562,667.6 L563.5,667.2 L565,666.9 L566.5,666.6 L568,666.3 L569.5,666 L571,665.7 L572.5,665.4 L574,665.2 L575.5,664.9 L577,664.6 L578.5,664.4 L580,664.1 L581.5,663.9 L583,663.7 L584.5,663.4 L586,663.2 L587.5,663 L589,662.8 L590.5,662.6 L592,662.4 L593.5,662.2 L595,662 L596.5,661.8 L598,661.7 L599.5,661.5 L601,661.3 L602.5,661.2 L604,661 L605.5,660.9 L607,660.7 L608.5,660.6 L610,660.4 L611.5,660.3 L613,660.2 L614.5,660 L616,659.9 L617.5,659.8 L619,659.7 L620.5,659.6 L622,659.5 L623.5,659.4 L625,659.3 L626.5,659.2 L628,659.1 L629.5,659 L631,658.9 L632.5,658.8 L634,658.7 L635.5,658.7 L637,658.6 L638.5,658.5 L640,658.4 L641.5,658.4 L643,658.3 L644.5,658.2 L646,658.2 L647.5,658.1 L649,658 L650.5,658 L652,657.9 L653.5,657.9 L655,657.8 L656.5,657.7 L658,657.7 L659.5,657.6 L661,657.6 L662.5,657.5 L664,657.5 L665.5,657.4 L667,657.4 L668.5,657.3 L670,657.3 L671.5,657.2 L673,657.2 L674.5,657.2 L676,657.1 L677.5,657.1 L679,657 L680.5,657 L682,657 L683.5,656.9 L685,656.9 L686.5,656.8 L688,656.8 L689.5,656.8 L691,656.7 L692.5,656.7 L694,656.7 L695.5,656.6 L697,656.6 L698.5,656.6 L700,656.6 L701.5,656.5 L703,656.5 L704.5,656.5 L706,656.4 L707.5,656.4 L709,656.3 L710.5,656.1 L712,655.8 L713.5,655.5 L715,655 L716.5,654.4" stroke="#ff0000"/>
<path d="M107.5,701.9 L109,702.6 L110.5,703.4 L112,704.3 L113.5,705.2 L115,706.1 L116.5,707.1 L118,708.1 L119.5,709.1 L121,710.2 L122.5,711.2 L124,712.3 L125.5,713.4 L127,714.5 L128.5,715.5 L130,716.6 L131.5,717.7 L133,718.7 L134.5,719.8 L136,720.8 L137.5,721.8 L139,722.7 L140.5,723.6 L142,724.5 L143.5,725.4 L145,726.1 L146.5,726.9 L148,727.6 L149.5,728.2 L151,728.7 L152.5,729.2 L154,729.6 L155.5,730 L157,730.2 L158.5,730.4 L160,730.5 L161.5,730.5 L163,730.4 L164.5,730.1 L166,729.8 L167.5,729.4 L169.1,728.8 L170.6,728.2 L172.1,727.4 L173.6,726.5 L175.1,725.4 L176.6,724.3 L178.1,723.1 L179.6,721.8 L181.1,720.5 L182.6,719.2 L184.1,717.9 L185.6,716.5 L187.1,715.2 L188.6,714 L190.1,712.7 L191.6,711.5 L193.1,710.3 L194.6,709.2 L196.1,708.1 L197.6,707.1 L199.1,706.1 L200.6,705.2 L202.1,704.3 L203.6,703.5 L205.1,702.8 L206.6,702.2 L208.1,701.6 L209.6,701.1 L211.1,700.7 L212.6,700.4 L214.1,700.1 L215.6,699.9 L217.1,699.8 L218.6,699.7 L220.1,699.7 L221.6,699.7 L223.1,699.7 L224.6,699.8 L226.1,699.9 L227.6,700 L229.1,700.2 L230.6,700.4 L232.1,700.6 L233.6,700.8 L235.1,701.1 L236.6,701.4 L238.1,701.7 L239.6,702 L241.1,702.4 L242.6,702.7 L244.1,703.1 L245.6,703.5 L247.1,703.9 L248.6,704.3 L250.1,704.8 L251.6,705.2 L253.1,705.7 L254.6,706.1 L256.1,706.6 L257.6,707.1 L259.1,707.6 L260.6,708.1 L262.1,708.6 L263.6,709.1 L265.1,709.6 L266.6,710.1 L268.1,710.7 L269.6,711.2 L271.1,711.7 L272.6,712.2 L274.1,712.7 L275.6,713.2 L277.1,713.8 L278.6,714.3 L280.1,714.9 L281.6,715.5 L283.1,716.2 L284.6,716.9 L286.1,717.6 L287.6,718.4 L289.1,719.3 L290.7,720.3 L292.2,721.4 L293.7,722.5 L295.2,723.8 L296.7,725.1 L298.2,726.6 L299.7,728.1 L301.2,729.7 L302.7,731.3 L304.2,733 L305.7,734.7 L307.2,736.5 L308.7,738.2 L310.2,740 L311.7,741.7 L313.2,743.5 L314.7,745.2 L316.2,746.9 L317.7,748.6 L319.2,750.4 L320.7,752.2 L322.2,754 L323.7,755.8 L325.2,757.6 L326.7,759.5 L328.2,761.4 L329.7,763.3 L331.2,765.2 L332.7,767.1 L334.2,768.9 L335.7,770.6 L337.2,772.2 L338.7,773.7 L340.2,775.1 L341.7,776.4 L343.2,777.6 L344.7,778.9 L346.2,780.2 L347.7,781.6 L349.2,783.4 L350.7,785.4 L352.2,787.7 L353.7,790.6 L355.2,793.9 L356.7,797.8 L358.2,802 L359.7,806.6 L361.2,811.4 L362.7,816.3 L364.2,821.1 L365.7,825.7 L367.2,830.1 L368.7,834 L370.2,837.4 L371.7,840.2 L373.2,842.3 L374.7,843.7 L376.2,844.4 L377.7,844.3 L379.2,843.5 L380.7,842.1 L382.2,840.4 L383.7,838.5 L385.2,836.7 L386.7,835 L388.2,833.6 L389.7,832.5 L391.2,831.7 L392.7,831.2 L394.2,831.1 L395.7,831.4 L397.2,832.2 L398.7,833.2 L400.2,834.5 L401.7,836 L403.2,837.6 L404.7,839.3 L406.2,841 L407.7,842.7 L409.2,844.2 L410.7,845.5 L412.2,846.5 L413.8,847.2 L415.3,847.6 L416.8,847.4 L418.3,846.5 L419.8,844.8 L421.3,842.1 L422.8,838.1 L424.3,832.9 L425.8,826.9 L427.3,820.5 L428.8,814 L430.3,808 L431.8,802.6 L433.3,797.7 L434.8,793.4 L436.3,789.7 L437.8,786.4 L439.3,783.5 L440.8,780.9 L442.3,778.6 L443.8,776.6 L445.3,774.7 L446.8,773 L448.3,771.3 L449.8,769.6 L451.3,767.8 L452.8,766 L454.3,764.2 L455.8,762.3 L457.3,760.5 L458.8,758.6 L460.3,756.8 L461.8,755 L463.3,753.2 L464.8,751.5 L466.3,749.9 L467.8,748.4 L469.3,747 L470.8,745.7 L472.3,744.5 L473.8,743.4 L475.3,742.4 L476.8,741.5 L478.3,740.6 L479.8,739.8 L481.3,739 L482.8,738.3 L484.3,737.6 L485.8,736.8 L487.3,736.1 L488.8,735.4 L490.3,734.6 L491.8,733.9 L493.3,733.2 L494.8,732.4 L496.3,731.7 L497.8,731 L499.3,730.2 L500.8,729.5 L502.3,728.8 L503.8,728 L505.3,727.3 L506.8,726.6 L508.3,725.9 L509.8,725.2 L511.3,724.5 L512.8,723.8 L514.3,723.2 L515.8,722.5 L517.3,721.8 L518.8,721.2 L520.3,720.6 L521.8,719.9 L523.3,719.3 L524.8,718.7 L526.3,718.2 L527.8,717.6 L529.3,717.1 L530.8,716.5 L532.3,716 L533.8,715.5 L535.4,715.1 L536.9,714.6 L538.4,714.2 L539.9,713.8 L541.4,713.4 L542.9,713 L544.4,712.7 L545.9,712.4 L547.4,712.1 L548.9,711.8 L550.4,711.5 L551.9,711.2 L553.4,711 L554.9,710.7 L556.4,710.5 L557.9,710.3 L559.4,710 L560.9,709.8 L562.4,709.5 L563.9,709.3 L565.4,709 L566.9,708.7 L568.4,708.5 L569.9,708.2 L571.4,707.8 L572.9,707.5 L574.4,707.1 L575.9,706.7 L577.4,706.3 L578.9,705.9 L580.4,705.4 L581.9,705 L583.4,704.5 L584.9,704.1 L586.4,703.6 L587.9,703.2 L589.4,702.8 L590.9,702.4 L592.4,702 L593.9,701.6 L595.4,701.3 L596.9,701 L598.4,700.7 L599.9,700.4 L601.4,700.1 L602.9,699.9 L604.4,699.7 L605.9,699.5 L607.4,699.3 L608.9,699.1 L610.4,698.9 L611.9,698.8 L613.4,698.6 L614.9,698.5 L616.4,698.4 L617.9,698.3 L619.4,698.2 L620.9,698.1 L622.4,698 L623.9,697.9 L625.4,697.9 L626.9,697.8 L628.4,697.7 L629.9,697.7 L631.4,697.6 L632.9,697.6 L634.4,697.5 L635.9,697.5 L637.4,697.5 L638.9,697.4 L640.4,697.4 L641.9,697.3 L643.4,697.3 L644.9,697.3 L646.4,697.2 L647.9,697.2 L649.4,697.1 L650.9,697 L652.4,697 L653.9,696.9 L655.4,696.8 L657,696.7 L658.5,696.6 L660,696.5 L661.5,696.4 L663,696.3 L664.5,696.2 L666,696.1 L667.5,696 L669,695.9 L670.5,695.8 L672,695.7 L673.5,695.6 L675,695.5 L676.5,695.4 L678,695.4 L679.5,695.3 L681,695.2 L682.5,695.1 L684,695.1 L685.5,695 L687,694.9 L688.5,694.9 L690,694.9 L691.5,694.8 L693,694.8 L694.5,694.8 L696,694.8 L697.5,694.8 L699,694.9 L700.5,694.9 L702,695 L703.5,695 L705,695.1 L706.5,695.2 L708,695.2 L709.5,695.2 L711,695 L712.5,694.8 L714,694.3 L715.5,693.7 L717,692.8" stroke="#00ff00"/>
<path d="M107.5,784.3 L109,785.6 L110.5,786.8 L112,788.1 L113.5,789.3 L115,790.5 L116.5,791.7 L118,792.8 L119.5,793.9 L121,795 L122.5,796 L124,797 L125.5,797.9 L127,798.8 L128.5,799.7 L130,800.5 L131.5,801.2 L133,801.9 L134.5,802.5 L136,803 L137.5,803.5 L139,803.9 L140.5,804.2 L142,804.4 L143.5,804.6 L145,804.7 L146.5,804.7 L148,804.6 L149.5,804.4 L151,804.1 L152.5,803.8 L154,803.4 L155.5,802.9 L157,802.4 L158.5,801.8 L160,801.1 L161.5,800.4 L163,799.6 L164.5,798.7 L166,797.9 L167.5,796.9 L169.1,796 L170.6,795 L172.1,794 L173.6,792.9 L175.1,791.8 L176.6,790.7 L178.1,789.6 L179.6,788.5 L181.1,787.3 L182.6,786.2 L184.1,785 L185.6,783.9 L187.1,782.7 L188.6,781.6 L190.1,780.5 L191.6,779.4 L193.1,778.4 L194.6,777.4 L196.1,776.5 L197.6,775.8 L199.1,775.1 L200.6,774.6 L202.1,774.3 L203.6,774.1 L205.1,774.1 L206.6,774.2 L208.1,774.5 L209.6,774.8 L211.1,775.3 L212.6,775.8 L214.1,776.4 L215.6,777 L217.1,777.7 L218.6,778.3 L220.1,779 L221.6,779.7 L223.1,780.4 L224.6,781 L226.1,781.7 L227.6,782.3 L229.1,783 L230.6,783.6 L232.1,784.2 L233.6,784.8 L235.1,785.4 L236.6,786 L238.1,786.6 L239.6,787.2 L241.1,787.9 L242.6,788.5 L244.1,789.3 L245.6,790.1 L247.1,790.9 L248.6,791.8 L250.1,792.8 L251.6,793.9 L253.1,795 L254.6,796.1 L256.1,797.3 L257.6,798.4 L259.1,799.6 L260.6,800.8 L262.1,802 L263.6,803.2 L265.1,804.4 L266.6,805.5 L268.1,806.6 L269.6,807.7 L271.1,808.7 L272.6,809.8 L274.1,810.8 L275.6,811.8 L277.1,812.7 L278.6,813.7 L280.1,814.6 L281.6,815.5 L283.1,816.3 L284.6,817.2 L286.1,818 L287.6,818.8 L289.1,819.7 L290.7,820.5 L292.2,821.3 L293.7,822.1 L295.2,823 L296.7,823.8 L298.2,824.7 L299.7,825.6 L301.2,826.5 L302.7,827.4 L304.2,828.4 L305.7,829.4 L307.2,830.5 L308.7,831.6 L310.2,832.7 L311.7,833.9 L313.2,835.1 L314.7,836.4 L316.2,837.7 L317.7,838.9 L319.2,840.2 L320.7,841.5 L322.2,842.7 L323.7,843.9 L325.2,845.1 L326.7,846.2 L328.2,847.3 L329.7,848.2 L331.2,849.1 L332.7,850 L334.2,850.7 L335.7,851.3 L337.2,851.8 L338.7,852.2 L340.2,852.4 L341.7,852.6 L343.2,852.5 L344.7,852.4 L346.2,852.2 L347.7,851.9 L349.2,851.5 L350.7,851 L352.2,850.5 L353.7,849.9 L355.2,849.3 L356.7,848.7 L358.2,848.1 L359.7,847.4 L361.2,846.8 L362.7,846.3 L364.2,845.8 L365.7,845.4 L367.2,845.1 L368.7,844.9 L370.2,844.8 L371.7,844.9 L373.2,845.1 L374.7,845.6 L376.2,846.2 L377.7,847.1 L379.2,848.2 L380.7,849.5 L382.2,851.2 L383.7,853.1 L385.2,855.3 L386.7,857.8 L388.2,860.7 L389.7,863.9 L391.2,867.5 L392.7,871.3 L394.2,875.2 L395.7,879.2 L397.2,883.1 L398.7,886.9 L400.2,890.5 L401.7,893.9 L403.2,897.1 L404.7,900.3 L406.2,903.5 L407.7,906.6 L409.2,909.5 L410.7,911.9 L412.2,913.6 L413.8,914.7 L415.3,915.1 L416.8,915 L418.3,914.4 L419.8,913.4 L421.3,912.2 L422.8,910.8 L424.3,909.3 L425.8,907.9 L427.3,906.5 L428.8,905.2 L430.3,904 L431.8,902.9 L433.3,901.7 L434.8,900.2 L436.3,898.2 L437.8,895.5 L439.3,892 L440.8,888 L442.3,883.6 L443.8,879 L445.3,874.4 L446.8,869.8 L448.3,865.4 L449.8,861.3 L451.3,857.4 L452.8,853.8 L454.3,850.5 L455.8,847.4 L457.3,844.4 L458.8,841.7 L460.3,839.2 L461.8,836.8 L463.3,834.6 L464.8,832.4 L466.3,830.2 L467.8,828 L469.3,825.8 L470.8,823.4 L472.3,821 L473.8,818.6 L475.3,816.3 L476.8,814.3 L478.3,812.5 L479.8,811 L481.3,809.7 L482.8,808.6 L484.3,807.7 L485.8,806.7 L487.3,805.9 L488.8,805 L490.3,804.2 L491.8,803.5 L493.3,802.7 L494.8,802 L496.3,801.3 L497.8,800.6 L499.3,800 L500.8,799.3 L502.3,798.7 L503.8,798 L505.3,797.4 L506.8,796.8 L508.3,796.2 L509.8,795.6 L511.3,795 L512.8,794.4 L514.3,793.9 L515.8,793.3 L517.3,792.8 L518.8,792.3 L520.3,791.7 L521.8,791.2 L523.3,790.7 L524.8,790.2 L526.3,789.7 L527.8,789.2 L529.3,788.7 L530.8,788.3 L532.3,787.8 L533.8,787.4 L535.4,786.9 L536.9,786.5 L538.4,786.1 L539.9,785.7 L541.4,785.2 L542.9,784.8 L544.4,784.5 L545.9,784.1 L547.4,783.7 L548.9,783.3 L550.4,783 L551.9,782.6 L553.4,782.2 L554.9,781.9 L556.4,781.6 L557.9,781.2 L559.4,780.9 L560.9,780.6 L562.4,780.3 L563.9,780 L565.4,779.7 L566.9,779.4 L568.4,779.1 L569.9,778.8 L571.4,778.6 L572.9,778.3 L574.4,778.1 L575.9,777.8 L577.4,777.6 L578.9,777.3 L580.4,777.1 L581.9,776.8 L583.4,776.6 L584.9,776.4 L586.4,776.2 L587.9,776 L589.4,775.8 L590.9,775.6 L592.4,775.4 L593.9,775.2 L595.4,775 L596.9,774.8 L598.4,774.6 L599.9,774.5 L601.4,774.3 L602.9,774.1 L604.4,774 L605.9,773.8 L607.4,773.7 L608.9,773.5 L610.4,773.4 L611.9,773.2 L613.4,773.1 L614.9,773 L616.4,772.8 L617.9,772.7 L619.4,772.6 L620.9,772.5 L622.4,772.3 L623.9,772.2 L625.4,772.1 L626.9,772 L628.4,771.9 L629.9,771.8 L631.4,771.7 L632.9,771.6 L634.4,771.5 L635.9,771.4 L637.4,771.3 L638.9,771.2 L640.4,771.1 L641.9,771 L643.4,771 L644.9,770.9 L646.4,770.8 L647.9,770.7 L649.4,770.6 L650.9,770.6 L652.4,770.5 L653.9,770.4 L655.4,770.4 L657,770.3 L658.5,770.3 L660,770.2 L661.5,770.2 L663,770.1 L664.5,770.1 L666,770 L667.5,770 L669,770 L670.5,769.9 L672,769.9 L673.5,769.9 L675,769.8 L676.5,769.8 L678,769.8 L679.5,769.8 L681,769.8 L682.5,769.8 L684,769.8 L685.5,769.8 L687,769.8 L688.5,769.8 L690,769.8 L691.5,769.8 L693,769.8 L694.5,769.8 L696,769.8 L697.5,769.7 L699,769.7 L700.5,769.6 L702,769.5 L703.5,769.4 L705,769.3 L706.5,769.1 L708,768.9 L709.5,768.7 L711,768.5 L712.5,768.2 L714,767.8 L715.5,767.4 L717,766.4" stroke="#ff00ff"/>
<path d="M107.5,809.4 L109,810.1 L110.5,810.8 L112,811.6 L113.5,812.4 L115,813.2 L116.5,814.1 L118,815 L119.5,815.9 L121,816.8 L122.5,817.7 L124,818.7 L125.5,819.6 L127,820.6 L128.5,821.5 L130,822.5 L131.5,823.4 L133,824.4 L134.5,825.3 L136,826.2 L137.5,827.1 L139,828 L140.5,828.8 L142,829.6 L143.5,830.4 L145,831.2 L146.5,831.9 L148,832.6 L149.5,833.2 L151,833.8 L152.5,834.3 L154,834.7 L155.5,835.1 L157,835.5 L158.5,835.7 L160,835.9 L161.5,836.1 L163,836.1 L164.5,836 L166,835.9 L167.5,835.7 L169.1,835.4 L170.6,834.9 L172.1,834.4 L173.6,833.8 L175.1,833 L176.6,832.2 L178.1,831.2 L179.6,830.1 L181.1,828.9 L182.6,827.7 L184.1,826.5 L185.6,825.3 L187.1,824.1 L188.6,822.9 L190.1,821.8 L191.6,820.8 L193.1,819.8 L194.6,818.9 L196.1,818 L197.6,817.2 L199.1,816.5 L200.6,815.8 L202.1,815.1 L203.6,814.5 L205.1,814 L206.6,813.5 L208.1,813 L209.6,812.7 L211.1,812.3 L212.6,812 L214.1,811.7 L215.6,811.5 L217.1,811.4 L218.6,811.3 L220.1,811.2 L221.6,811.1 L223.1,811.1 L224.6,811.2 L226.1,811.3 L227.6,811.4 L229.1,811.6 L230.6,811.8 L232.1,812 L233.6,812.3 L235.1,812.6 L236.6,813 L238.1,813.4 L239.6,813.8 L241.1,814.3 L242.6,814.9 L244.1,815.4 L245.6,816 L247.1,816.7 L248.6,817.4 L250.1,818.1 L251.6,818.9 L253.1,819.8 L254.6,820.6 L256.1,821.5 L257.6,822.5 L259.1,823.4 L260.6,824.3 L262.1,825.2 L263.6,826 L265.1,826.8 L266.6,827.5 L268.1,828.1 L269.6,828.8 L271.1,829.4 L272.6,830.1 L274.1,830.7 L275.6,831.4 L277.1,832.1 L278.6,832.9 L280.1,833.7 L281.6,834.6 L283.1,835.6 L284.6,836.6 L286.1,837.7 L287.6,838.9 L289.1,840.1 L290.7,841.3 L292.2,842.5 L293.7,843.8 L295.2,845.1 L296.7,846.4 L298.2,847.8 L299.7,849.1 L301.2,850.5 L302.7,851.8 L304.2,853.2 L305.7,854.6 L307.2,856.1 L308.7,857.5 L310.2,858.9 L311.7,860.4 L313.2,861.8 L314.7,863.3 L316.2,864.8 L317.7,866.2 L319.2,867.7 L320.7,869.2 L322.2,870.7 L323.7,872.2 L325.2,873.8 L326.7,875.3 L328.2,876.8 L329.7,878.3 L331.2,879.8 L332.7,881.4 L334.2,882.9 L335.7,884.4 L337.2,886 L338.7,887.5 L340.2,889 L341.7,890.5 L343.2,892 L344.7,893.3 L346.2,894.4 L347.7,895.3 L349.2,895.8 L350.7,896 L352.2,895.8 L353.7,895.2 L355.2,894.3 L356.7,893.1 L358.2,891.7 L359.7,890.2 L361.2,888.6 L362.7,887.1 L364.2,885.6 L365.7,884.3 L367.2,883.1 L368.7,882 L370.2,881.2 L371.7,880.6 L373.2,880.2 L374.7,880.2 L376.2,880.4 L377.7,881 L379.2,881.9 L380.7,883.1 L382.2,884.5 L383.7,886.2 L385.2,888.1 L386.7,890.2 L388.2,892.5 L389.7,894.9 L391.2,897.6 L392.7,900.4 L394.2,903.2 L395.7,906.2 L397.2,909.3 L398.7,912.5 L400.2,915.7 L401.7,918.9 L403.2,922.2 L404.7,925.4 L406.2,928.6 L407.7,931.6 L409.2,934.6 L410.7,937.4 L412.2,940 L413.8,942.4 L415.3,944.6 L416.8,946.5 L418.3,948.1 L419.8,949.3 L421.3,950.2 L422.8,950.7 L424.3,950.8 L425.8,950.5 L427.3,949.7 L428.8,948.6 L430.3,947.2 L431.8,945.5 L433.3,943.4 L434.8,941.1 L436.3,938.6 L437.8,935.9 L439.3,932.9 L440.8,929.8 L442.3,926.6 L443.8,923.3 L445.3,919.9 L446.8,916.4 L448.3,912.8 L449.8,909 L451.3,905.1 L452.8,901.1 L454.3,896.8 L455.8,892.4 L457.3,888 L458.8,883.8 L460.3,879.8 L461.8,876.1 L463.3,872.6 L464.8,869.4 L466.3,866.5 L467.8,863.7 L469.3,861.2 L470.8,858.7 L472.3,856.4 L473.8,854.3 L475.3,852.2 L476.8,850.3 L478.3,848.5 L479.8,846.8 L481.3,845.2 L482.8,843.7 L484.3,842.3 L485.8,840.9 L487.3,839.7 L488.8,838.5 L490.3,837.5 L491.8,836.4 L493.3,835.5 L494.8,834.6 L496.3,833.8 L497.8,833 L499.3,832.2 L500.8,831.5 L502.3,830.8 L503.8,830.2 L505.3,829.6 L506.8,829 L508.3,828.4 L509.8,827.8 L511.3,827.3 L512.8,826.7 L514.3,826.2 L515.8,825.6 L517.3,825.1 L518.8,824.5 L520.3,824 L521.8,823.5 L523.3,823 L524.8,822.5 L526.3,821.9 L527.8,821.4 L529.3,820.9 L530.8,820.5 L532.3,820 L533.8,819.5 L535.4,819 L536.9,818.6 L538.4,818.1 L539.9,817.6 L541.4,817.2 L542.9,816.8 L544.4,816.3 L545.9,815.9 L547.4,815.5 L548.9,815.1 L550.4,814.7 L551.9,814.3 L553.4,813.9 L554.9,813.5 L556.4,813.1 L557.9,812.7 L559.4,812.4 L560.9,812 L562.4,811.7 L563.9,811.3 L565.4,811 L566.9,810.7 L568.4,810.4 L569.9,810 L571.4,809.7 L572.9,809.4 L574.4,809.2 L575.9,808.9 L577.4,808.6 L578.9,808.3 L580.4,808.1 L581.9,807.8 L583.4,807.6 L584.9,807.4 L586.4,807.2 L587.9,806.9 L589.4,806.7 L590.9,806.5 L592.4,806.4 L593.9,806.2 L595.4,806 L596.9,805.8 L598.4,805.7 L599.9,805.5 L601.4,805.4 L602.9,805.2 L604.4,805.1 L605.9,804.9 L607.4,804.8 L608.9,804.7 L610.4,804.6 L611.9,804.5 L613.4,804.4 L614.9,804.3 L616.4,804.2 L617.9,804.1 L619.4,804 L620.9,803.9 L622.4,803.8 L623.9,803.7 L625.4,803.6 L626.9,803.5 L628.4,803.5 L629.9,803.4 L631.4,803.3 L632.9,803.2 L634.4,803.2 L635.9,803.1 L637.4,803 L638.9,803 L640.4,802.9 L641.9,802.8 L643.4,802.8 L644.9,802.7 L646.4,802.6 L647.9,802.5 L649.4,802.5 L650.9,802.4 L652.4,802.3 L653.9,802.2 L655.4,802.2 L657,802.1 L658.5,802 L660,801.9 L661.5,801.8 L663,801.8 L664.5,801.7 L666,801.6 L667.5,801.5 L669,801.5 L670.5,801.4 L672,801.3 L673.5,801.3 L675,801.2 L676.5,801.1 L678,801.1 L679.5,801 L681,801 L682.5,800.9 L684,800.9 L685.5,800.9 L687,800.8 L688.5,800.8 L690,800.8 L691.5,800.8 L693,800.8 L694.5,800.8 L696,800.8 L697.5,800.9 L699,800.9 L700.5,800.9 L702,801 L703.5,801 L705,801.1 L706.5,801.2 L708,801.1 L709.5,801.1 L711,800.8 L712.5,800.5 L714,799.9 L715.5,799.2 L717,797.9" stroke="#0000ff"/>
<path d="M107.5,846.1 L109,846.3 L110.5,846.6 L112,847 L113.5,847.5 L115,848 L116.5,848.5 L118,849.1 L119.5,849.8 L121,850.5 L122.5,851.2 L124,852 L125.5,852.8 L127,853.7 L128.5,854.5 L130,855.4 L131.5,856.3 L133,857.2 L134.5,858.2 L136,859.1 L137.5,860 L139,861 L140.5,861.9 L142,862.8 L143.5,863.7 L145,864.6 L146.5,865.5 L148,866.3 L149.5,867.1 L151,867.9 L152.5,868.7 L154,869.4 L155.5,870.1 L157,870.7 L158.5,871.3 L160,871.8 L161.5,872.3 L163,872.7 L164.5,873 L166,873.3 L167.5,873.6 L169.1,873.8 L170.6,873.9 L172.1,873.9 L173.6,873.9 L175.1,873.8 L176.6,873.7 L178.1,873.5 L179.6,873.1 L181.1,872.8 L182.6,872.3 L184.1,871.7 L185.6,871.1 L187.1,870.4 L188.6,869.6 L190.1,868.8 L191.6,867.9 L193.1,867 L194.6,866 L196.1,865.1 L197.6,864.2 L199.1,863.3 L200.6,862.4 L202.1,861.5 L203.6,860.7 L205.1,860 L206.6,859.2 L208.1,858.5 L209.6,857.9 L211.1,857.2 L212.6,856.6 L214.1,856.1 L215.6,855.6 L217.1,855.1 L218.6,854.6 L220.1,854.2 L221.6,853.8 L223.1,853.5 L224.6,853.2 L226.1,852.9 L227.6,852.7 L229.1,852.5 L230.6,852.3 L232.1,852.1 L233.6,852 L235.1,851.9 L236.6,851.9 L238.1,851.9 L239.6,851.9 L241.1,851.9 L242.6,852 L244.1,852.1 L245.6,852.3 L247.1,852.4 L248.6,852.6 L250.1,852.9 L251.6,853.1 L253.1,853.4 L254.6,853.7 L256.1,854.1 L257.6,854.5 L259.1,854.9 L260.6,855.3 L262.1,855.8 L263.6,856.2 L265.1,856.8 L266.6,857.3 L268.1,857.9 L269.6,858.5 L271.1,859.1 L272.6,859.8 L274.1,860.4 L275.6,861.2 L277.1,861.9 L278.6,862.6 L280.1,863.4 L281.6,864.2 L283.1,865.1 L284.6,865.9 L286.1,866.8 L287.6,867.7 L289.1,868.7 L290.7,869.7 L292.2,870.7 L293.7,871.8 L295.2,872.9 L296.7,874.1 L298.2,875.3 L299.7,876.6 L301.2,877.9 L302.7,879.3 L304.2,880.7 L305.7,882.2 L307.2,883.8 L308.7,885.5 L310.2,887.2 L311.7,889 L313.2,890.9 L314.7,892.9 L316.2,894.9 L317.7,896.9 L319.2,899 L320.7,901.2 L322.2,903.4 L323.7,905.6 L325.2,907.8 L326.7,910.1 L328.2,912.3 L329.7,914.5 L331.2,916.7 L332.7,918.8 L334.2,920.8 L335.7,922.7 L337.2,924.5 L338.7,926.1 L340.2,927.5 L341.7,928.8 L343.2,929.8 L344.7,930.8 L346.2,931.7 L347.7,932.5 L349.2,933.4 L350.7,934.2 L352.2,935.1 L353.7,936 L355.2,937.1 L356.7,938.3 L358.2,939.5 L359.7,940.9 L361.2,942.3 L362.7,943.7 L364.2,945 L365.7,946.3 L367.2,947.5 L368.7,948.5 L370.2,949.4 L371.7,950.1 L373.2,950.7 L374.7,951.2 L376.2,951.8 L377.7,952.4 L379.2,953.2 L380.7,954.1 L382.2,955.3 L383.7,956.6 L385.2,958 L386.7,959.4 L388.2,960.9 L389.7,962.2 L391.2,963.5 L392.7,964.8 L394.2,966.2 L395.7,967.8 L397.2,969.7 L398.7,972 L400.2,974.8 L401.7,978.1 L403.2,981.7 L404.7,985.5 L406.2,989.2 L407.7,992.7 L409.2,995.8 L410.7,998.2 L412.2,1000 L413.8,1001 L415.3,1001.2 L416.8,1000.7 L418.3,999.7 L419.8,998.4 L421.3,996.9 L422.8,995.2 L424.3,993.4 L425.8,991.4 L427.3,989.4 L428.8,987.2 L430.3,984.8 L431.8,982.3 L433.3,979.6 L434.8,976.7 L436.3,973.6 L437.8,970.3 L439.3,966.8 L440.8,963 L442.3,959.1 L443.8,955.2 L445.3,951.2 L446.8,947.3 L448.3,943.5 L449.8,939.8 L451.3,936.1 L452.8,932.4 L454.3,928.8 L455.8,925.1 L457.3,921.5 L458.8,918.1 L460.3,914.8 L461.8,911.8 L463.3,909.1 L464.8,906.6 L466.3,904.2 L467.8,902.1 L469.3,900 L470.8,898.1 L472.3,896.3 L473.8,894.6 L475.3,893 L476.8,891.4 L478.3,890 L479.8,888.6 L481.3,887.3 L482.8,886 L484.3,884.9 L485.8,883.7 L487.3,882.7 L488.8,881.7 L490.3,880.7 L491.8,879.8 L493.3,878.9 L494.8,878 L496.3,877.2 L497.8,876.4 L499.3,875.6 L500.8,874.8 L502.3,874.1 L503.8,873.3 L505.3,872.6 L506.8,871.9 L508.3,871.2 L509.8,870.5 L511.3,869.9 L512.8,869.2 L514.3,868.6 L515.8,868 L517.3,867.4 L518.8,866.8 L520.3,866.2 L521.8,865.6 L523.3,865 L524.8,864.5 L526.3,863.9 L527.8,863.4 L529.3,862.9 L530.8,862.4 L532.3,861.9 L533.8,861.4 L535.4,860.9 L536.9,860.4 L538.4,859.9 L539.9,859.5 L541.4,859 L542.9,858.6 L544.4,858.1 L545.9,857.7 L547.4,857.3 L548.9,856.9 L550.4,856.5 L551.9,856.1 L553.4,855.7 L554.9,855.4 L556.4,855 L557.9,854.6 L559.4,854.3 L560.9,854 L562.4,853.6 L563.9,853.3 L565.4,853 L566.9,852.7 L568.4,852.4 L569.9,852.1 L571.4,851.8 L572.9,851.5 L574.4,851.2 L575.9,850.9 L577.4,850.7 L578.9,850.4 L580.4,850.2 L581.9,849.9 L583.4,849.7 L584.9,849.5 L586.4,849.2 L587.9,849 L589.4,848.8 L590.9,848.6 L592.4,848.4 L593.9,848.2 L595.4,848 L596.9,847.8 L598.4,847.6 L599.9,847.4 L601.4,847.3 L602.9,847.1 L604.4,846.9 L605.9,846.8 L607.4,846.6 L608.9,846.5 L610.4,846.3 L611.9,846.2 L613.4,846.1 L614.9,845.9 L616.4,845.8 L617.9,845.7 L619.4,845.5 L620.9,845.4 L622.4,845.3 L623.9,845.2 L625.4,845.1 L626.9,845 L628.4,844.9 L629.9,844.8 L631.4,844.7 L632.9,844.6 L634.4,844.5 L635.9,844.4 L637.4,844.3 L638.9,844.2 L640.4,844.1 L641.9,844.1 L643.4,844 L644.9,843.9 L646.4,843.8 L647.9,843.8 L649.4,843.7 L650.9,843.6 L652.4,843.5 L653.9,843.5 L655.4,843.4 L657,843.3 L658.5,843.3 L660,843.2 L661.5,843.1 L663,843.1 L664.5,843 L666,843 L667.5,842.9 L669,842.8 L670.5,842.8 L672,842.7 L673.5,842.7 L675,842.7 L676.5,842.6 L678,842.6 L679.5,842.5 L681,842.5 L682.5,842.5 L684,842.4 L685.5,842.4 L687,842.4 L688.5,842.4 L690,842.4 L691.5,842.3 L693,842.3 L694.5,842.3 L696,842.3 L697.5,842.3 L699,842.3 L700.5,842.3 L702,842.3 L703.5,842.4 L705,842.4 L706.5,842.4 L708,842.3 L709.5,842.3 L711,842.1 L712.5,841.9 L714,841.6 L715.5,841.1 L717,840.5" stroke="#008000"/>
</g>
</svg>
</body></html>
